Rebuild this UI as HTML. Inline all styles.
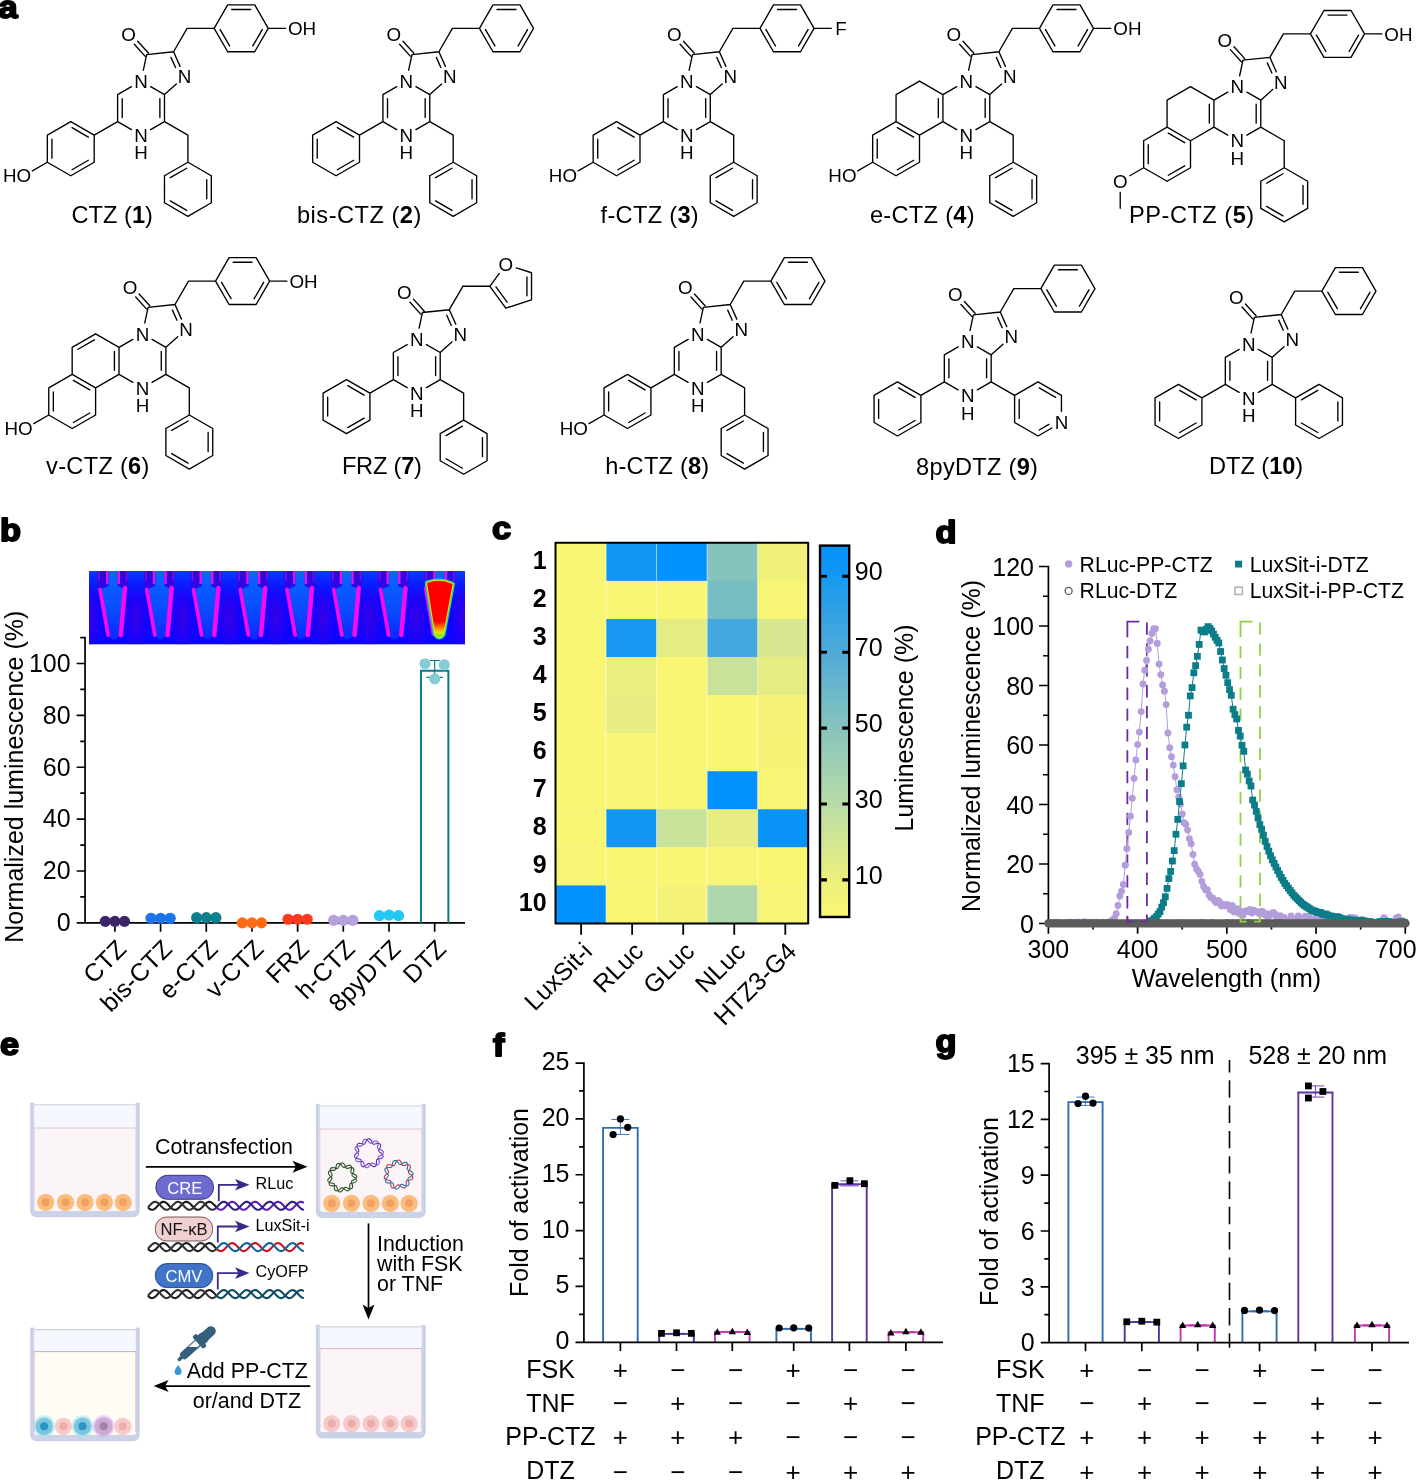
<!DOCTYPE html>
<html><head><meta charset="utf-8"><title>Figure</title>
<style>html,body{margin:0;padding:0;background:#fff}svg{display:block}text{font-family:"Liberation Sans",sans-serif}</style>
</head><body>
<svg width="1416" height="1480" viewBox="0 0 1416 1480">
<rect width="1416" height="1480" fill="#fff"/>
<g font-family="Liberation Sans, sans-serif" fill="#000">
<path d="M150.65 86.61L164.48 94.59M164.48 94.59L164.48 121.64M159.88 98.64L159.88 117.58M164.48 121.64L150.65 129.62M131.44 129.62L117.62 121.64M117.62 121.64L117.62 94.59M122.22 117.58L122.22 98.64M117.62 94.59L131.44 86.61M164.48 94.59L176.34 83.91M180.07 66.36L173.57 51.78M175.54 67.48L171.02 57.35M173.57 51.78L146.67 54.6M146.67 54.6L143.36 70.21M148.38 53.06L137.7 41.2M144.96 56.14L134.29 44.28M173.57 51.78L187.1 28.35M187.1 28.35L214.15 28.35M214.15 28.35L227.67 4.92M227.67 4.92L254.73 4.92M231.73 9.52L250.67 9.52M254.73 4.92L268.25 28.35M268.25 28.35L254.72 51.78M262.24 29.56L252.77 45.96M254.72 51.78L227.68 51.78M227.68 51.78L214.15 28.35M229.63 45.96L220.16 29.56M268.25 28.35L285.56 28.35M164.48 121.64L187.9 135.16M187.9 135.16L187.9 162.21M187.9 162.21L211.33 175.74M211.33 175.74L211.33 202.79M206.73 179.79L206.73 198.73M211.33 202.79L187.9 216.31M187.9 216.31L164.48 202.79M186.69 210.3L170.29 200.83M164.48 202.79L164.48 175.74M164.48 175.74L187.9 162.21M170.29 177.69L186.69 168.22M117.62 121.64L94.2 135.16M94.2 135.16L94.2 162.21M94.2 162.21L70.77 175.74M88.38 160.26L71.99 169.73M70.77 175.74L47.35 162.21M47.35 162.21L47.35 135.16M51.94 158.15L51.94 139.22M47.35 135.16L70.77 121.64M70.77 121.64L94.2 135.16M71.99 127.65L88.38 137.12M47.35 162.21L32.35 170.87" fill="none" stroke="#000" stroke-width="1.35" stroke-linecap="round" stroke-linejoin="round"/>
<text x="141.05" y="87.79" font-size="18.8" text-anchor="middle">N</text>
<text x="141.05" y="141.89" font-size="18.8" text-anchor="middle">N</text>
<text x="141.05" y="159.38" font-size="18.8" text-anchor="middle">H</text>
<text x="184.58" y="83.22" font-size="18.8" text-anchor="middle">N</text>
<text x="128.57" y="41.23" font-size="18.8" text-anchor="middle">O</text>
<text x="287.99" y="35.08" font-size="18.8">OH</text>
<text x="31.23" y="182.47" font-size="18.8" text-anchor="end">HO</text>
<text x="71.5" y="222.6" font-size="23.6" textLength="81.4" lengthAdjust="spacing">CTZ (<tspan font-weight="bold">1</tspan>)</text>
<path d="M415.95 86.61L429.78 94.59M429.78 94.59L429.78 121.64M425.18 98.64L425.18 117.58M429.78 121.64L415.95 129.62M396.74 129.62L382.92 121.64M382.92 121.64L382.92 94.59M387.52 117.58L387.52 98.64M382.92 94.59L396.74 86.61M429.78 94.59L441.64 83.91M445.37 66.36L438.88 51.78M440.84 67.48L436.32 57.35M438.88 51.78L411.97 54.6M411.97 54.6L408.66 70.21M413.68 53.06L403 41.2M410.26 56.14L399.59 44.28M438.88 51.78L452.4 28.35M452.4 28.35L479.45 28.35M479.45 28.35L492.98 4.92M492.98 4.92L520.02 4.92M497.03 9.52L515.97 9.52M520.02 4.92L533.55 28.35M533.55 28.35L520.02 51.78M527.54 29.56L518.07 45.96M520.02 51.78L492.98 51.78M492.98 51.78L479.45 28.35M494.93 45.96L485.46 29.56M429.78 121.64L453.2 135.16M453.2 135.16L453.2 162.21M453.2 162.21L476.63 175.74M476.63 175.74L476.63 202.79M472.03 179.79L472.03 198.73M476.63 202.79L453.2 216.31M453.2 216.31L429.78 202.79M451.99 210.3L435.59 200.83M429.78 202.79L429.78 175.74M429.78 175.74L453.2 162.21M435.59 177.69L451.99 168.22M382.92 121.64L359.5 135.16M359.5 135.16L359.5 162.21M359.5 162.21L336.07 175.74M353.68 160.26L337.29 169.73M336.07 175.74L312.65 162.21M312.65 162.21L312.65 135.16M317.24 158.15L317.24 139.22M312.65 135.16L336.07 121.64M336.07 121.64L359.5 135.16M337.29 127.65L353.68 137.12" fill="none" stroke="#000" stroke-width="1.35" stroke-linecap="round" stroke-linejoin="round"/>
<text x="406.35" y="87.79" font-size="18.8" text-anchor="middle">N</text>
<text x="406.35" y="141.89" font-size="18.8" text-anchor="middle">N</text>
<text x="406.35" y="159.38" font-size="18.8" text-anchor="middle">H</text>
<text x="449.88" y="83.22" font-size="18.8" text-anchor="middle">N</text>
<text x="393.87" y="41.23" font-size="18.8" text-anchor="middle">O</text>
<text x="297" y="222.6" font-size="23.6" textLength="124.3" lengthAdjust="spacing">bis-CTZ (<tspan font-weight="bold">2</tspan>)</text>
<path d="M696.45 86.61L710.28 94.59M710.28 94.59L710.28 121.64M705.68 98.64L705.68 117.58M710.28 121.64L696.45 129.62M677.24 129.62L663.42 121.64M663.42 121.64L663.42 94.59M668.02 117.58L668.02 98.64M663.42 94.59L677.24 86.61M710.28 94.59L722.14 83.91M725.87 66.36L719.38 51.78M721.34 67.48L716.82 57.35M719.38 51.78L692.47 54.6M692.47 54.6L689.16 70.21M694.18 53.06L683.5 41.2M690.76 56.14L680.09 44.28M719.38 51.78L732.9 28.35M732.9 28.35L759.95 28.35M759.95 28.35L773.47 4.92M773.47 4.92L800.52 4.92M777.53 9.52L796.47 9.52M800.52 4.92L814.05 28.35M814.05 28.35L800.52 51.78M808.04 29.56L798.57 45.96M800.52 51.78L773.48 51.78M773.48 51.78L759.95 28.35M775.43 45.96L765.96 29.56M814.05 28.35L831.36 28.35M710.28 121.64L733.7 135.16M733.7 135.16L733.7 162.21M733.7 162.21L757.13 175.74M757.13 175.74L757.13 202.79M752.53 179.79L752.53 198.73M757.13 202.79L733.7 216.31M733.7 216.31L710.28 202.79M732.49 210.3L716.09 200.83M710.28 202.79L710.28 175.74M710.28 175.74L733.7 162.21M716.09 177.69L732.49 168.22M663.42 121.64L640 135.16M640 135.16L640 162.21M640 162.21L616.57 175.74M634.18 160.26L617.79 169.73M616.57 175.74L593.15 162.21M593.15 162.21L593.15 135.16M597.74 158.15L597.74 139.22M593.15 135.16L616.57 121.64M616.57 121.64L640 135.16M617.79 127.65L634.18 137.12M593.15 162.21L578.15 170.87" fill="none" stroke="#000" stroke-width="1.35" stroke-linecap="round" stroke-linejoin="round"/>
<text x="686.85" y="87.79" font-size="18.8" text-anchor="middle">N</text>
<text x="686.85" y="141.89" font-size="18.8" text-anchor="middle">N</text>
<text x="686.85" y="159.38" font-size="18.8" text-anchor="middle">H</text>
<text x="730.38" y="83.22" font-size="18.8" text-anchor="middle">N</text>
<text x="674.37" y="41.23" font-size="18.8" text-anchor="middle">O</text>
<text x="835.36" y="35.08" font-size="18.8">F</text>
<text x="577.03" y="182.47" font-size="18.8" text-anchor="end">HO</text>
<text x="600.6" y="222.6" font-size="23.6" textLength="98.1" lengthAdjust="spacing">f-CTZ (<tspan font-weight="bold">3</tspan>)</text>
<path d="M975.95 86.61L989.78 94.59M989.78 94.59L989.78 121.64M985.18 98.64L985.18 117.58M989.78 121.64L975.95 129.62M956.74 129.62L942.92 121.64M942.92 121.64L942.92 94.59M938.32 117.58L938.32 98.64M942.92 94.59L956.74 86.61M989.78 94.59L1001.64 83.91M1005.37 66.36L998.88 51.78M1000.84 67.48L996.32 57.35M998.88 51.78L971.97 54.6M971.97 54.6L968.66 70.21M973.68 53.06L963 41.2M970.26 56.14L959.59 44.28M998.88 51.78L1012.4 28.35M1012.4 28.35L1039.45 28.35M1039.45 28.35L1052.97 4.92M1052.97 4.92L1080.02 4.92M1057.03 9.52L1075.97 9.52M1080.02 4.92L1093.55 28.35M1093.55 28.35L1080.02 51.78M1087.54 29.56L1078.07 45.96M1080.02 51.78L1052.97 51.78M1052.97 51.78L1039.45 28.35M1054.93 45.96L1045.46 29.56M1093.55 28.35L1110.86 28.35M989.78 121.64L1013.2 135.16M1013.2 135.16L1013.2 162.21M1013.2 162.21L1036.63 175.74M1036.63 175.74L1036.63 202.79M1032.03 179.79L1032.03 198.73M1036.63 202.79L1013.2 216.31M1013.2 216.31L989.78 202.79M1011.99 210.3L995.59 200.83M989.78 202.79L989.78 175.74M989.78 175.74L1013.2 162.21M995.59 177.69L1011.99 168.22M942.92 94.59L919.5 81.06M919.5 135.16L942.92 121.64M919.5 81.06L896.07 94.59M896.07 94.59L896.07 121.64M896.07 121.64L919.5 135.16M897.29 127.65L913.68 137.12M919.5 135.16L919.5 162.21M919.5 162.21L896.07 175.74M913.68 160.26L897.29 169.73M896.07 175.74L872.65 162.21M872.65 162.21L872.65 135.16M877.24 158.15L877.24 139.22M872.65 135.16L896.07 121.64M872.65 162.21L857.65 170.87" fill="none" stroke="#000" stroke-width="1.35" stroke-linecap="round" stroke-linejoin="round"/>
<text x="966.35" y="87.79" font-size="18.8" text-anchor="middle">N</text>
<text x="966.35" y="141.89" font-size="18.8" text-anchor="middle">N</text>
<text x="966.35" y="159.38" font-size="18.8" text-anchor="middle">H</text>
<text x="1009.88" y="83.22" font-size="18.8" text-anchor="middle">N</text>
<text x="953.87" y="41.23" font-size="18.8" text-anchor="middle">O</text>
<text x="1113.29" y="35.08" font-size="18.8">OH</text>
<text x="856.53" y="182.47" font-size="18.8" text-anchor="end">HO</text>
<text x="869.9" y="222.6" font-size="23.6" textLength="104.7" lengthAdjust="spacing">e-CTZ (<tspan font-weight="bold">4</tspan>)</text>
<path d="M1246.95 92.16L1260.78 100.14M1260.78 100.14L1260.78 127.19M1256.18 104.19L1256.18 123.13M1260.78 127.19L1246.95 135.17M1227.74 135.17L1213.92 127.19M1213.92 127.19L1213.92 100.14M1209.32 123.13L1209.32 104.19M1213.92 100.14L1227.74 92.16M1260.78 100.14L1272.64 89.46M1276.37 71.91L1269.88 57.33M1271.84 73.03L1267.32 62.9M1269.88 57.33L1242.97 60.15M1242.97 60.15L1239.66 75.76M1244.68 58.61L1234 46.75M1241.26 61.69L1230.59 49.83M1269.88 57.33L1283.4 33.9M1283.4 33.9L1310.45 33.9M1310.45 33.9L1323.98 10.47M1323.98 10.47L1351.03 10.47M1328.03 15.07L1346.97 15.07M1351.03 10.47L1364.55 33.9M1364.55 33.9L1351.03 57.33M1358.54 35.11L1349.07 51.51M1351.03 57.33L1323.98 57.33M1323.98 57.33L1310.45 33.9M1325.93 51.51L1316.46 35.11M1364.55 33.9L1381.86 33.9M1260.78 127.19L1284.2 140.71M1284.2 140.71L1284.2 167.76M1284.2 167.76L1307.63 181.29M1307.63 181.29L1307.63 208.34M1303.03 185.34L1303.03 204.28M1307.63 208.34L1284.2 221.86M1284.2 221.86L1260.78 208.34M1282.99 215.85L1266.59 206.38M1260.78 208.34L1260.78 181.29M1260.78 181.29L1284.2 167.76M1266.59 183.24L1282.99 173.77M1213.92 100.14L1190.5 86.61M1190.5 140.71L1213.92 127.19M1190.5 86.61L1167.07 100.14M1167.07 100.14L1167.07 127.19M1167.07 127.19L1190.5 140.71M1168.29 133.2L1184.68 142.67M1190.5 140.71L1190.5 167.76M1190.5 167.76L1167.07 181.29M1184.68 165.81L1168.29 175.28M1167.07 181.29L1143.65 167.76M1143.65 167.76L1143.65 140.71M1148.24 163.7L1148.24 144.77M1143.65 140.71L1167.07 127.19M1143.65 167.76L1129.82 175.74M1120.22 192.38L1120.22 208.34" fill="none" stroke="#000" stroke-width="1.35" stroke-linecap="round" stroke-linejoin="round"/>
<text x="1237.35" y="93.34" font-size="18.8" text-anchor="middle">N</text>
<text x="1237.35" y="147.44" font-size="18.8" text-anchor="middle">N</text>
<text x="1237.35" y="164.93" font-size="18.8" text-anchor="middle">H</text>
<text x="1280.88" y="88.77" font-size="18.8" text-anchor="middle">N</text>
<text x="1224.87" y="46.78" font-size="18.8" text-anchor="middle">O</text>
<text x="1384.29" y="40.63" font-size="18.8">OH</text>
<text x="1120.22" y="188.02" font-size="18.8" text-anchor="middle">O</text>
<text x="1129.1" y="222.6" font-size="23.6" textLength="125" lengthAdjust="spacing">PP-CTZ (<tspan font-weight="bold">5</tspan>)</text>
<path d="M152.05 339.36L165.88 347.34M165.88 347.34L165.88 374.39M161.28 351.39L161.28 370.33M165.88 374.39L152.05 382.37M132.84 382.37L119.02 374.39M119.02 374.39L119.02 347.34M114.42 370.33L114.42 351.39M119.02 347.34L132.84 339.36M165.88 347.34L177.74 336.66M181.47 319.11L174.97 304.53M176.94 320.23L172.42 310.1M174.97 304.53L148.07 307.35M148.07 307.35L144.76 322.96M149.78 305.81L139.1 293.95M146.36 308.89L135.69 297.03M174.97 304.53L188.5 281.1M188.5 281.1L215.55 281.1M215.55 281.1L229.07 257.67M229.07 257.67L256.12 257.67M233.13 262.27L252.07 262.27M256.12 257.67L269.65 281.1M269.65 281.1L256.12 304.53M263.64 282.31L254.17 298.71M256.12 304.53L229.07 304.53M229.07 304.53L215.55 281.1M231.03 298.71L221.56 282.31M269.65 281.1L286.96 281.1M165.88 374.39L189.3 387.91M189.3 387.91L189.3 414.96M189.3 414.96L212.73 428.49M212.73 428.49L212.73 455.54M208.13 432.54L208.13 451.48M212.73 455.54L189.3 469.06M189.3 469.06L165.88 455.54M188.09 463.05L171.69 453.58M165.88 455.54L165.88 428.49M165.88 428.49L189.3 414.96M171.69 430.44L188.09 420.97M119.02 347.34L95.6 333.81M95.6 387.91L119.02 374.39M95.6 333.81L72.17 347.34M94.38 339.82L77.98 349.29M72.17 347.34L72.17 374.39M72.17 374.39L95.6 387.91M73.39 380.4L89.78 389.87M95.6 387.91L95.6 414.96M95.6 414.96L72.17 428.49M89.78 413.01L73.39 422.48M72.17 428.49L48.75 414.96M48.75 414.96L48.75 387.91M53.34 410.9L53.34 391.97M48.75 387.91L72.17 374.39M48.75 414.96L33.75 423.62" fill="none" stroke="#000" stroke-width="1.35" stroke-linecap="round" stroke-linejoin="round"/>
<text x="142.45" y="340.54" font-size="18.8" text-anchor="middle">N</text>
<text x="142.45" y="394.64" font-size="18.8" text-anchor="middle">N</text>
<text x="142.45" y="412.13" font-size="18.8" text-anchor="middle">H</text>
<text x="185.98" y="335.97" font-size="18.8" text-anchor="middle">N</text>
<text x="129.97" y="293.98" font-size="18.8" text-anchor="middle">O</text>
<text x="289.39" y="287.83" font-size="18.8">OH</text>
<text x="32.63" y="435.22" font-size="18.8" text-anchor="end">HO</text>
<text x="46.1" y="474.2" font-size="23.6" textLength="103.3" lengthAdjust="spacing">v-CTZ (<tspan font-weight="bold">6</tspan>)</text>
<path d="M426.39 344.55L440.21 352.52M440.21 352.52L440.21 379.57M435.62 356.58L435.62 375.52M440.21 379.57L426.39 387.55M407.18 387.55L393.36 379.57M393.36 379.57L393.36 352.52M397.96 375.52L397.96 356.58M393.36 352.52L407.18 344.55M440.21 352.52L452.07 341.85M455.81 324.29L449.31 309.71M451.27 325.42L446.76 315.29M449.31 309.71L422.41 312.54M422.41 312.54L419.09 328.15M424.12 311L413.44 299.14M420.7 314.08L410.02 302.22M449.31 309.71L462.84 286.29M462.84 286.29L489.89 286.29M489.89 286.29L499.27 273.37M516.34 267.83L531.52 272.76M531.52 272.76L531.52 299.81M526.92 276.82L526.92 295.76M531.52 299.81L505.79 308.17M505.79 308.17L489.89 286.29M507.12 302.19L495.99 286.87M440.21 379.57L463.64 393.1M463.64 393.1L463.64 420.15M463.64 420.15L487.07 433.67M487.07 433.67L487.07 460.72M482.47 437.73L482.47 456.67M487.07 460.72L463.64 474.25M463.64 474.25L440.21 460.72M462.43 468.24L446.03 458.77M440.21 460.72L440.21 433.67M440.21 433.67L463.64 420.15M446.03 435.63L462.43 426.16M393.36 379.57L369.94 393.1M369.94 393.1L369.94 420.15M369.94 420.15L346.51 433.67M364.12 418.2L347.72 427.66M346.51 433.67L323.08 420.15M323.08 420.15L323.08 393.1M327.68 416.09L327.68 397.16M323.08 393.1L346.51 379.57M346.51 379.57L369.94 393.1M347.72 385.59L364.12 395.05" fill="none" stroke="#000" stroke-width="1.35" stroke-linecap="round" stroke-linejoin="round"/>
<text x="416.79" y="345.73" font-size="18.8" text-anchor="middle">N</text>
<text x="416.79" y="399.83" font-size="18.8" text-anchor="middle">N</text>
<text x="416.79" y="417.31" font-size="18.8" text-anchor="middle">H</text>
<text x="460.32" y="341.16" font-size="18.8" text-anchor="middle">N</text>
<text x="404.31" y="299.17" font-size="18.8" text-anchor="middle">O</text>
<text x="505.79" y="271.13" font-size="18.8" text-anchor="middle">O</text>
<text x="341.9" y="474.2" font-size="23.6" textLength="80" lengthAdjust="spacing">FRZ (<tspan font-weight="bold">7</tspan>)</text>
<path d="M707.35 339.36L721.18 347.34M721.18 347.34L721.18 374.39M716.58 351.39L716.58 370.33M721.18 374.39L707.35 382.37M688.14 382.37L674.32 374.39M674.32 374.39L674.32 347.34M678.92 370.33L678.92 351.39M674.32 347.34L688.14 339.36M721.18 347.34L733.04 336.66M736.77 319.11L730.27 304.53M732.24 320.23L727.72 310.1M730.27 304.53L703.37 307.35M703.37 307.35L700.06 322.96M705.08 305.81L694.4 293.95M701.66 308.89L690.99 297.03M730.27 304.53L743.8 281.1M743.8 281.1L770.85 281.1M770.85 281.1L784.37 257.67M784.37 257.67L811.42 257.67M788.43 262.27L807.37 262.27M811.42 257.67L824.95 281.1M824.95 281.1L811.42 304.53M818.94 282.31L809.47 298.71M811.42 304.53L784.38 304.53M784.38 304.53L770.85 281.1M786.33 298.71L776.86 282.31M721.18 374.39L744.6 387.91M744.6 387.91L744.6 414.96M744.6 414.96L768.03 428.49M768.03 428.49L768.03 455.54M763.43 432.54L763.43 451.48M768.03 455.54L744.6 469.06M744.6 469.06L721.18 455.54M743.39 463.05L726.99 453.58M721.18 455.54L721.18 428.49M721.18 428.49L744.6 414.96M726.99 430.44L743.39 420.97M674.32 374.39L650.9 387.91M650.9 387.91L650.9 414.96M650.9 414.96L627.47 428.49M645.08 413.01L628.69 422.48M627.47 428.49L604.05 414.96M604.05 414.96L604.05 387.91M608.64 410.9L608.64 391.97M604.05 387.91L627.47 374.39M627.47 374.39L650.9 387.91M628.69 380.4L645.08 389.87M604.05 414.96L589.05 423.62" fill="none" stroke="#000" stroke-width="1.35" stroke-linecap="round" stroke-linejoin="round"/>
<text x="697.75" y="340.54" font-size="18.8" text-anchor="middle">N</text>
<text x="697.75" y="394.64" font-size="18.8" text-anchor="middle">N</text>
<text x="697.75" y="412.13" font-size="18.8" text-anchor="middle">H</text>
<text x="741.28" y="335.97" font-size="18.8" text-anchor="middle">N</text>
<text x="685.27" y="293.98" font-size="18.8" text-anchor="middle">O</text>
<text x="587.93" y="435.22" font-size="18.8" text-anchor="end">HO</text>
<text x="605.2" y="474.2" font-size="23.6" textLength="104" lengthAdjust="spacing">h-CTZ (<tspan font-weight="bold">8</tspan>)</text>
<path d="M977.35 346.86L991.18 354.84M991.18 354.84L991.18 381.89M986.58 358.89L986.58 377.83M991.18 381.89L977.35 389.87M958.14 389.87L944.32 381.89M944.32 381.89L944.32 354.84M948.92 377.83L948.92 358.89M944.32 354.84L958.14 346.86M991.18 354.84L1003.04 344.16M1006.77 326.61L1000.28 312.03M1002.24 327.73L997.72 317.6M1000.28 312.03L973.37 314.85M973.37 314.85L970.06 330.46M975.08 313.31L964.4 301.45M971.66 316.39L960.99 304.53M1000.28 312.03L1013.8 288.6M1013.8 288.6L1040.85 288.6M1040.85 288.6L1054.38 265.17M1054.38 265.17L1081.42 265.17M1058.43 269.77L1077.37 269.77M1081.42 265.17L1094.95 288.6M1094.95 288.6L1081.42 312.03M1088.94 289.81L1079.47 306.21M1081.42 312.03L1054.38 312.03M1054.38 312.03L1040.85 288.6M1056.33 306.21L1046.86 289.81M991.18 381.89L1014.6 395.41M1014.6 395.41L1038.03 381.89M1038.03 381.89L1061.45 395.41M1039.24 387.9L1055.64 397.37M1061.45 395.41L1061.45 411.37M1051.85 428.01L1038.03 435.99M1048.85 424.43L1039.24 429.98M1038.03 435.99L1014.6 422.46M1014.6 422.46L1014.6 395.41M1019.2 418.4L1019.2 399.47M944.32 381.89L920.9 395.41M920.9 395.41L920.9 422.46M920.9 422.46L897.47 435.99M915.08 420.51L898.69 429.98M897.47 435.99L874.05 422.46M874.05 422.46L874.05 395.41M878.64 418.4L878.64 399.47M874.05 395.41L897.47 381.89M897.47 381.89L920.9 395.41M898.69 387.9L915.08 397.37" fill="none" stroke="#000" stroke-width="1.35" stroke-linecap="round" stroke-linejoin="round"/>
<text x="967.75" y="348.04" font-size="18.8" text-anchor="middle">N</text>
<text x="967.75" y="402.14" font-size="18.8" text-anchor="middle">N</text>
<text x="967.75" y="419.63" font-size="18.8" text-anchor="middle">H</text>
<text x="1011.28" y="343.47" font-size="18.8" text-anchor="middle">N</text>
<text x="955.27" y="301.48" font-size="18.8" text-anchor="middle">O</text>
<text x="1061.45" y="429.19" font-size="18.8" text-anchor="middle">N</text>
<text x="916.1" y="475.4" font-size="23.6" textLength="121.8" lengthAdjust="spacing">8pyDTZ (<tspan font-weight="bold">9</tspan>)</text>
<path d="M1258.35 349.36L1272.18 357.34M1272.18 357.34L1272.18 384.39M1267.58 361.39L1267.58 380.33M1272.18 384.39L1258.35 392.37M1239.14 392.37L1225.32 384.39M1225.32 384.39L1225.32 357.34M1229.92 380.33L1229.92 361.39M1225.32 357.34L1239.14 349.36M1272.18 357.34L1284.04 346.66M1287.77 329.11L1281.28 314.53M1283.24 330.23L1278.72 320.1M1281.28 314.53L1254.37 317.35M1254.37 317.35L1251.06 332.96M1256.08 315.81L1245.4 303.95M1252.66 318.89L1241.99 307.03M1281.28 314.53L1294.8 291.1M1294.8 291.1L1321.85 291.1M1321.85 291.1L1335.38 267.67M1335.38 267.67L1362.43 267.67M1339.43 272.27L1358.37 272.27M1362.43 267.67L1375.95 291.1M1375.95 291.1L1362.43 314.53M1369.94 292.31L1360.47 308.71M1362.43 314.53L1335.38 314.53M1335.38 314.53L1321.85 291.1M1337.33 308.71L1327.86 292.31M1272.18 384.39L1295.6 397.91M1295.6 397.91L1319.03 384.39M1301.41 399.87L1317.81 390.4M1319.03 384.39L1342.45 397.91M1342.45 397.91L1342.45 424.96M1337.85 401.97L1337.85 420.9M1342.45 424.96L1319.03 438.49M1319.03 438.49L1295.6 424.96M1317.81 432.48L1301.41 423.01M1295.6 424.96L1295.6 397.91M1225.32 384.39L1201.9 397.91M1201.9 397.91L1201.9 424.96M1201.9 424.96L1178.47 438.49M1196.08 423.01L1179.69 432.48M1178.47 438.49L1155.05 424.96M1155.05 424.96L1155.05 397.91M1159.64 420.9L1159.64 401.97M1155.05 397.91L1178.47 384.39M1178.47 384.39L1201.9 397.91M1179.69 390.4L1196.08 399.87" fill="none" stroke="#000" stroke-width="1.35" stroke-linecap="round" stroke-linejoin="round"/>
<text x="1248.75" y="350.54" font-size="18.8" text-anchor="middle">N</text>
<text x="1248.75" y="404.64" font-size="18.8" text-anchor="middle">N</text>
<text x="1248.75" y="422.13" font-size="18.8" text-anchor="middle">H</text>
<text x="1292.28" y="345.97" font-size="18.8" text-anchor="middle">N</text>
<text x="1236.27" y="303.98" font-size="18.8" text-anchor="middle">O</text>
<text x="1209" y="474.0" font-size="23.6" textLength="94.2" lengthAdjust="spacing">DTZ (<tspan font-weight="bold">10</tspan>)</text>
</g>
<g font-family="Liberation Sans, sans-serif" font-weight="bold" fill="#000" stroke="#000" stroke-width="1.9" stroke-linejoin="round">
<text transform="translate(-1.60 18.00) scale(1.09 1)" font-size="31.5">a</text>
<text transform="translate(-0.05 540.65) scale(1.09 1)" font-size="31.5">b</text>
<text transform="translate(492.10 538.75) scale(1.09 1)" font-size="31.5">c</text>
<text transform="translate(935.55 542.55) scale(1.09 1)" font-size="31.5">d</text>
<text transform="translate(0.11 1055.20) scale(1.09 1)" font-size="31.5">e</text>
<text transform="translate(493.05 1056.00) scale(1.09 1)" font-size="31.5">f</text>
<text transform="translate(935.55 1051.60) scale(1.09 1)" font-size="31.5">g</text>
</g>
<g font-family="Liberation Sans, sans-serif" fill="#000">
<defs><linearGradient id="bgt" x1="0" y1="0" x2="0" y2="1"><stop offset="0" stop-color="#0840ff" stop-opacity="0.9"/><stop offset="0.45" stop-color="#0820ff" stop-opacity="0"/></linearGradient><linearGradient id="tb" x1="0" y1="0" x2="0" y2="1"><stop offset="0" stop-color="#0a66ff"/><stop offset="0.55" stop-color="#0a4cff"/><stop offset="1" stop-color="#0a28ff"/></linearGradient><linearGradient id="rc" x1="0" y1="0" x2="0" y2="1"><stop offset="0" stop-color="#ff0000"/><stop offset="0.72" stop-color="#ff0000"/><stop offset="0.84" stop-color="#ff8a00"/><stop offset="0.92" stop-color="#e0e600"/><stop offset="1" stop-color="#34e22c"/></linearGradient><radialGradient id="pg"><stop offset="0" stop-color="#3a00e6" stop-opacity="0.95"/><stop offset="1" stop-color="#3a00e6" stop-opacity="0"/></radialGradient><clipPath id="sc"><rect x="89" y="571" width="376" height="73.60000000000002"/></clipPath></defs>
<g clip-path="url(#sc)">
<rect x="89" y="571" width="376" height="73.60000000000002" fill="#0c04ff"/>
<rect x="89" y="571" width="376" height="73.60000000000002" fill="url(#bgt)"/>
<ellipse cx="89.03" cy="618" rx="13" ry="34" fill="url(#pg)"/>
<ellipse cx="135.78" cy="618" rx="13" ry="34" fill="url(#pg)"/>
<ellipse cx="182.53" cy="618" rx="13" ry="34" fill="url(#pg)"/>
<ellipse cx="229.28" cy="618" rx="13" ry="34" fill="url(#pg)"/>
<ellipse cx="276.02" cy="618" rx="13" ry="34" fill="url(#pg)"/>
<ellipse cx="322.77" cy="618" rx="13" ry="34" fill="url(#pg)"/>
<ellipse cx="369.52" cy="618" rx="13" ry="34" fill="url(#pg)"/>
<ellipse cx="416.27" cy="618" rx="13" ry="34" fill="url(#pg)"/>
<ellipse cx="463.02" cy="618" rx="13" ry="34" fill="url(#pg)"/>
<rect x="97.4" y="571" width="9" height="16" fill="#3206e2"/><rect x="118.9" y="571" width="9" height="16" fill="#3206e2"/>
<path d="M108.6 571H117.6V586L123.9 589L119 636Q113.6 643 108.8 636L101.9 589L108.6 586Z" fill="url(#tb)"/>
<path d="M107.2 571v13M118.8 571v13" stroke="#e012f0" stroke-width="2.4" fill="none"/>
<path d="M99 571v10M126.6 571v10" stroke="#7a10e8" stroke-width="1.6" fill="none"/>
<path d="M100 589.5L108.1 635" stroke="#fa0af2" stroke-width="3.8" stroke-linecap="round" fill="none"/>
<path d="M125 588L120.8 635" stroke="#fa0af2" stroke-width="4.5" stroke-linecap="round" fill="none"/>
<rect x="144.15" y="571" width="9" height="16" fill="#3206e2"/><rect x="165.65" y="571" width="9" height="16" fill="#3206e2"/>
<path d="M155.35 571H164.35V586L170.65 589L165.75 636Q160.35 643 155.55 636L148.65 589L155.35 586Z" fill="url(#tb)"/>
<path d="M153.95 571v13M165.55 571v13" stroke="#e012f0" stroke-width="2.4" fill="none"/>
<path d="M145.75 571v10M173.35 571v10" stroke="#7a10e8" stroke-width="1.6" fill="none"/>
<path d="M146.75 589.5L154.85 635" stroke="#fa0af2" stroke-width="3.8" stroke-linecap="round" fill="none"/>
<path d="M171.75 588L167.55 635" stroke="#fa0af2" stroke-width="4.5" stroke-linecap="round" fill="none"/>
<rect x="190.9" y="571" width="9" height="16" fill="#3206e2"/><rect x="212.4" y="571" width="9" height="16" fill="#3206e2"/>
<path d="M202.1 571H211.1V586L217.4 589L212.5 636Q207.1 643 202.3 636L195.4 589L202.1 586Z" fill="url(#tb)"/>
<path d="M200.7 571v13M212.3 571v13" stroke="#e012f0" stroke-width="2.4" fill="none"/>
<path d="M192.5 571v10M220.1 571v10" stroke="#7a10e8" stroke-width="1.6" fill="none"/>
<path d="M193.5 589.5L201.6 635" stroke="#fa0af2" stroke-width="3.8" stroke-linecap="round" fill="none"/>
<path d="M218.5 588L214.3 635" stroke="#fa0af2" stroke-width="4.5" stroke-linecap="round" fill="none"/>
<rect x="237.65" y="571" width="9" height="16" fill="#3206e2"/><rect x="259.15" y="571" width="9" height="16" fill="#3206e2"/>
<path d="M248.85 571H257.85V586L264.15 589L259.25 636Q253.85 643 249.05 636L242.15 589L248.85 586Z" fill="url(#tb)"/>
<path d="M247.45 571v13M259.05 571v13" stroke="#e012f0" stroke-width="2.4" fill="none"/>
<path d="M239.25 571v10M266.85 571v10" stroke="#7a10e8" stroke-width="1.6" fill="none"/>
<path d="M240.25 589.5L248.35 635" stroke="#fa0af2" stroke-width="3.8" stroke-linecap="round" fill="none"/>
<path d="M265.25 588L261.05 635" stroke="#fa0af2" stroke-width="4.5" stroke-linecap="round" fill="none"/>
<rect x="284.4" y="571" width="9" height="16" fill="#3206e2"/><rect x="305.9" y="571" width="9" height="16" fill="#3206e2"/>
<path d="M295.6 571H304.6V586L310.9 589L306 636Q300.6 643 295.8 636L288.9 589L295.6 586Z" fill="url(#tb)"/>
<path d="M294.2 571v13M305.8 571v13" stroke="#e012f0" stroke-width="2.4" fill="none"/>
<path d="M286 571v10M313.6 571v10" stroke="#7a10e8" stroke-width="1.6" fill="none"/>
<path d="M287 589.5L295.1 635" stroke="#fa0af2" stroke-width="3.8" stroke-linecap="round" fill="none"/>
<path d="M312 588L307.8 635" stroke="#fa0af2" stroke-width="4.5" stroke-linecap="round" fill="none"/>
<rect x="331.15" y="571" width="9" height="16" fill="#3206e2"/><rect x="352.65" y="571" width="9" height="16" fill="#3206e2"/>
<path d="M342.35 571H351.35V586L357.65 589L352.75 636Q347.35 643 342.55 636L335.65 589L342.35 586Z" fill="url(#tb)"/>
<path d="M340.95 571v13M352.55 571v13" stroke="#e012f0" stroke-width="2.4" fill="none"/>
<path d="M332.75 571v10M360.35 571v10" stroke="#7a10e8" stroke-width="1.6" fill="none"/>
<path d="M333.75 589.5L341.85 635" stroke="#fa0af2" stroke-width="3.8" stroke-linecap="round" fill="none"/>
<path d="M358.75 588L354.55 635" stroke="#fa0af2" stroke-width="4.5" stroke-linecap="round" fill="none"/>
<rect x="377.9" y="571" width="9" height="16" fill="#3206e2"/><rect x="399.4" y="571" width="9" height="16" fill="#3206e2"/>
<path d="M389.1 571H398.1V586L404.4 589L399.5 636Q394.1 643 389.3 636L382.4 589L389.1 586Z" fill="url(#tb)"/>
<path d="M387.7 571v13M399.3 571v13" stroke="#e012f0" stroke-width="2.4" fill="none"/>
<path d="M379.5 571v10M407.1 571v10" stroke="#7a10e8" stroke-width="1.6" fill="none"/>
<path d="M380.5 589.5L388.6 635" stroke="#fa0af2" stroke-width="3.8" stroke-linecap="round" fill="none"/>
<path d="M405.5 588L401.3 635" stroke="#fa0af2" stroke-width="4.5" stroke-linecap="round" fill="none"/>
<rect x="424.65" y="571" width="9" height="16" fill="#3206e2"/><rect x="446.15" y="571" width="9" height="16" fill="#3206e2"/>
<path d="M435.85 571H444.85V586L451.15 589L446.25 636Q440.85 643 436.05 636L429.15 589L435.85 586Z" fill="url(#tb)"/>
<path d="M434.45 571v13M446.05 571v13" stroke="#e012f0" stroke-width="2.4" fill="none"/>
<path d="M426.25 571v10M453.85 571v10" stroke="#7a10e8" stroke-width="1.6" fill="none"/>
<path d="M425.45 588L433.25 634" stroke="#fa0af2" stroke-width="3.4" stroke-linecap="round" fill="none"/>
<path d="M427.05 583 Q440.15 578 452.65 584 L443.25 634 Q439.15 640.5 435.25 634 Z" fill="#14d0f0" stroke="#14d0f0" stroke-width="4.6" stroke-linejoin="round"/>
<path d="M427.05 583 Q440.15 578 452.65 584 L443.25 634 Q439.15 640.5 435.25 634 Z" fill="#30e428" stroke="#30e428" stroke-width="3.2" stroke-linejoin="round"/>
<path d="M427.05 583 Q440.15 578 452.65 584 L443.25 634 Q439.15 640.5 435.25 634 Z" fill="#f4e210" stroke="#f4e210" stroke-width="1.8" stroke-linejoin="round"/>
<path d="M427.05 583 Q440.15 578 452.65 584 L443.25 634 Q439.15 640.5 435.25 634 Z" fill="url(#rc)" stroke="none" stroke-width="0.2" stroke-linejoin="round"/>
</g>
<path d="M85.05 923.75V636.71M76.65 922.9H465M76.65 922.9h8.4M80.25 896.96h4.8M76.65 871.02h8.4M80.25 845.08h4.8M76.65 819.14h8.4M80.25 793.2h4.8M76.65 767.26h8.4M80.25 741.32h4.8M76.65 715.38h8.4M80.25 689.44h4.8M76.65 663.5h8.4M80.25 637.56h4.8M114.9 922.9v8.8M160.58 922.9v8.8M206.26 922.9v8.8M251.94 922.9v8.8M297.62 922.9v8.8M343.3 922.9v8.8M388.98 922.9v8.8M434.66 922.9v8.8" stroke="#000" stroke-width="1.7" fill="none"/>
<circle cx="105.3" cy="921.34" r="5.6" fill="#3c2468"/>
<circle cx="114.9" cy="921.34" r="5.6" fill="#3c2468"/>
<circle cx="124.5" cy="921.34" r="5.6" fill="#3c2468"/>
<circle cx="150.98" cy="918.23" r="5.6" fill="#1b74ea"/>
<circle cx="160.58" cy="918.23" r="5.6" fill="#1b74ea"/>
<circle cx="170.18" cy="918.23" r="5.6" fill="#1b74ea"/>
<circle cx="196.66" cy="917.71" r="5.6" fill="#0b7f8b"/>
<circle cx="206.26" cy="917.71" r="5.6" fill="#0b7f8b"/>
<circle cx="215.86" cy="917.71" r="5.6" fill="#0b7f8b"/>
<circle cx="242.34" cy="922.9" r="5.6" fill="#ff6b14"/>
<circle cx="251.94" cy="922.9" r="5.6" fill="#ff6b14"/>
<circle cx="261.54" cy="922.9" r="5.6" fill="#ff6b14"/>
<circle cx="288.02" cy="919.27" r="5.6" fill="#ff3a1e"/>
<circle cx="297.62" cy="919.27" r="5.6" fill="#ff3a1e"/>
<circle cx="307.22" cy="919.27" r="5.6" fill="#ff3a1e"/>
<circle cx="333.7" cy="920.31" r="5.6" fill="#b5a1dc"/>
<circle cx="343.3" cy="920.31" r="5.6" fill="#b5a1dc"/>
<circle cx="352.9" cy="920.31" r="5.6" fill="#b5a1dc"/>
<circle cx="379.38" cy="915.64" r="5.6" fill="#22c7f4"/>
<circle cx="388.98" cy="915.12" r="5.6" fill="#22c7f4"/>
<circle cx="398.58" cy="915.64" r="5.6" fill="#22c7f4"/>
<path d="M420.96 922.9V670.76H448.36V922.9" fill="none" stroke="#077b89" stroke-width="2"/>
<path d="M434.66 660.5V677.4M429.86 660.5h10M426.36 677.4h16.6" stroke="#077b89" stroke-width="1.2" fill="none"/>
<circle cx="425.06" cy="663.76" r="5.6" fill="#85ccd4"/>
<circle cx="434.66" cy="678.91" r="5.6" fill="#85ccd4"/>
<circle cx="444.26" cy="664.8" r="5.6" fill="#85ccd4"/>
<text x="70.6" y="931.2" font-size="25" text-anchor="end">0</text>
<text x="70.6" y="879.32" font-size="25" text-anchor="end">20</text>
<text x="70.6" y="827.44" font-size="25" text-anchor="end">40</text>
<text x="70.6" y="775.56" font-size="25" text-anchor="end">60</text>
<text x="70.6" y="723.68" font-size="25" text-anchor="end">80</text>
<text x="70.6" y="671.8" font-size="25" text-anchor="end">100</text>
<text transform="translate(23.2 776.7) rotate(-90)" font-size="25" text-anchor="middle">Normalized luminescence (%)</text>
<text transform="translate(127.9 950.5) rotate(-45)" font-size="25" text-anchor="end">CTZ</text>
<text transform="translate(173.58 950.5) rotate(-45)" font-size="25" text-anchor="end">bis-CTZ</text>
<text transform="translate(219.26 950.5) rotate(-45)" font-size="25" text-anchor="end">e-CTZ</text>
<text transform="translate(264.94 950.5) rotate(-45)" font-size="25" text-anchor="end">v-CTZ</text>
<text transform="translate(310.62 950.5) rotate(-45)" font-size="25" text-anchor="end">FRZ</text>
<text transform="translate(356.3 950.5) rotate(-45)" font-size="25" text-anchor="end">h-CTZ</text>
<text transform="translate(401.98 950.5) rotate(-45)" font-size="25" text-anchor="end">8pyDTZ</text>
<text transform="translate(447.66 950.5) rotate(-45)" font-size="25" text-anchor="end">DTZ</text>
</g>
<g font-family="Liberation Sans, sans-serif" fill="#000">
<rect x="555.5" y="542.8" width="50.84" height="38.37" fill="#faf673"/>
<rect x="606.04" y="542.8" width="50.84" height="38.37" fill="#1397f2"/>
<rect x="656.58" y="542.8" width="50.84" height="38.37" fill="#0391fd"/>
<rect x="707.12" y="542.8" width="50.84" height="38.37" fill="#86c3bd"/>
<rect x="757.66" y="542.8" width="50.84" height="38.37" fill="#eff07a"/>
<rect x="555.5" y="580.87" width="50.84" height="38.37" fill="#f9f673"/>
<rect x="606.04" y="580.87" width="50.84" height="38.37" fill="#f9f673"/>
<rect x="656.58" y="580.87" width="50.84" height="38.37" fill="#faf673"/>
<rect x="707.12" y="580.87" width="50.84" height="38.37" fill="#78bdc4"/>
<rect x="757.66" y="580.87" width="50.84" height="38.37" fill="#f8f574"/>
<rect x="555.5" y="618.94" width="50.84" height="38.37" fill="#faf673"/>
<rect x="606.04" y="618.94" width="50.84" height="38.37" fill="#1698f0"/>
<rect x="656.58" y="618.94" width="50.84" height="38.37" fill="#e5ec82"/>
<rect x="707.12" y="618.94" width="50.84" height="38.37" fill="#44a7dd"/>
<rect x="757.66" y="618.94" width="50.84" height="38.37" fill="#d6e78f"/>
<rect x="555.5" y="657.01" width="50.84" height="38.37" fill="#faf673"/>
<rect x="606.04" y="657.01" width="50.84" height="38.37" fill="#eaee7e"/>
<rect x="656.58" y="657.01" width="50.84" height="38.37" fill="#faf673"/>
<rect x="707.12" y="657.01" width="50.84" height="38.37" fill="#c8e29a"/>
<rect x="757.66" y="657.01" width="50.84" height="38.37" fill="#e5ec82"/>
<rect x="555.5" y="695.08" width="50.84" height="38.37" fill="#f9f673"/>
<rect x="606.04" y="695.08" width="50.84" height="38.37" fill="#e7ed80"/>
<rect x="656.58" y="695.08" width="50.84" height="38.37" fill="#faf673"/>
<rect x="707.12" y="695.08" width="50.84" height="38.37" fill="#faf673"/>
<rect x="757.66" y="695.08" width="50.84" height="38.37" fill="#f4f377"/>
<rect x="555.5" y="733.15" width="50.84" height="38.37" fill="#faf673"/>
<rect x="606.04" y="733.15" width="50.84" height="38.37" fill="#f9f574"/>
<rect x="656.58" y="733.15" width="50.84" height="38.37" fill="#faf673"/>
<rect x="707.12" y="733.15" width="50.84" height="38.37" fill="#faf673"/>
<rect x="757.66" y="733.15" width="50.84" height="38.37" fill="#f6f476"/>
<rect x="555.5" y="771.22" width="50.84" height="38.37" fill="#faf673"/>
<rect x="606.04" y="771.22" width="50.84" height="38.37" fill="#f7f575"/>
<rect x="656.58" y="771.22" width="50.84" height="38.37" fill="#faf673"/>
<rect x="707.12" y="771.22" width="50.84" height="38.37" fill="#0391fd"/>
<rect x="757.66" y="771.22" width="50.84" height="38.37" fill="#f9f574"/>
<rect x="555.5" y="809.29" width="50.84" height="38.37" fill="#faf673"/>
<rect x="606.04" y="809.29" width="50.84" height="38.37" fill="#1397f2"/>
<rect x="656.58" y="809.29" width="50.84" height="38.37" fill="#c8e29a"/>
<rect x="707.12" y="809.29" width="50.84" height="38.37" fill="#e7ed80"/>
<rect x="757.66" y="809.29" width="50.84" height="38.37" fill="#0993f9"/>
<rect x="555.5" y="847.36" width="50.84" height="38.37" fill="#f9f574"/>
<rect x="606.04" y="847.36" width="50.84" height="38.37" fill="#faf673"/>
<rect x="656.58" y="847.36" width="50.84" height="38.37" fill="#faf673"/>
<rect x="707.12" y="847.36" width="50.84" height="38.37" fill="#f7f575"/>
<rect x="757.66" y="847.36" width="50.84" height="38.37" fill="#faf673"/>
<rect x="555.5" y="885.43" width="50.84" height="38.37" fill="#0391fd"/>
<rect x="606.04" y="885.43" width="50.84" height="38.37" fill="#faf673"/>
<rect x="656.58" y="885.43" width="50.84" height="38.37" fill="#f4f377"/>
<rect x="707.12" y="885.43" width="50.84" height="38.37" fill="#add6ac"/>
<rect x="757.66" y="885.43" width="50.84" height="38.37" fill="#f7f575"/>
<path d="M606.04 542.8V923.5" stroke="#fff" stroke-opacity="0.75" stroke-width="0.7"/>
<path d="M656.58 542.8V923.5" stroke="#fff" stroke-opacity="0.75" stroke-width="0.7"/>
<path d="M707.12 542.8V923.5" stroke="#fff" stroke-opacity="0.75" stroke-width="0.7"/>
<path d="M757.66 542.8V923.5" stroke="#fff" stroke-opacity="0.75" stroke-width="0.7"/>
<rect x="555.5" y="542.8" width="252.7" height="380.7" fill="none" stroke="#000" stroke-width="2" stroke-linejoin="round"/>
<path d="M581.1 923.5v11.3M632.15 923.5v11.3M683.2 923.5v11.3M734.25 923.5v11.3M785.3 923.5v11.3" stroke="#000" stroke-width="1.8" fill="none"/>
<text x="546.6" y="568.73" font-size="25" font-weight="bold" text-anchor="end">1</text>
<text x="546.6" y="606.8" font-size="25" font-weight="bold" text-anchor="end">2</text>
<text x="546.6" y="644.87" font-size="25" font-weight="bold" text-anchor="end">3</text>
<text x="546.6" y="682.94" font-size="25" font-weight="bold" text-anchor="end">4</text>
<text x="546.6" y="721.01" font-size="25" font-weight="bold" text-anchor="end">5</text>
<text x="546.6" y="759.08" font-size="25" font-weight="bold" text-anchor="end">6</text>
<text x="546.6" y="797.15" font-size="25" font-weight="bold" text-anchor="end">7</text>
<text x="546.6" y="835.23" font-size="25" font-weight="bold" text-anchor="end">8</text>
<text x="546.6" y="873.29" font-size="25" font-weight="bold" text-anchor="end">9</text>
<text x="546.6" y="911.37" font-size="25" font-weight="bold" text-anchor="end">10</text>
<text transform="translate(593.7 953) rotate(-45)" font-size="25" text-anchor="end">LuxSit-i</text>
<text transform="translate(644.75 953) rotate(-45)" font-size="25" text-anchor="end">RLuc</text>
<text transform="translate(695.8 953) rotate(-45)" font-size="25" text-anchor="end">GLuc</text>
<text transform="translate(746.85 953) rotate(-45)" font-size="25" text-anchor="end">NLuc</text>
<text transform="translate(797.9 953) rotate(-45)" font-size="25" text-anchor="end">HTZ3-G4</text>
<defs><linearGradient id="cb" x1="0" y1="0" x2="0" y2="1"><stop offset="0" stop-color="#0090ff"/><stop offset="0.08" stop-color="#1698f0"/><stop offset="0.29" stop-color="#50abd8"/><stop offset="0.49" stop-color="#86c3bd"/><stop offset="0.69" stop-color="#b7dba8"/><stop offset="0.8" stop-color="#d4e691"/><stop offset="0.9" stop-color="#ecef7c"/><stop offset="1" stop-color="#faf673"/></linearGradient></defs>
<rect x="820" y="545.6" width="29.2" height="371.4" fill="url(#cb)" stroke="#000" stroke-width="2.4"/>
<text x="854.8" y="883.5" font-size="25">10</text>
<text x="854.8" y="807.6" font-size="25">30</text>
<text x="854.8" y="731.7" font-size="25">50</text>
<text x="854.8" y="655.8" font-size="25">70</text>
<text x="854.8" y="579.9" font-size="25">90</text>
<path d="M820 879.9h6.9M849.2 879.9h-6.9M820 804h6.9M849.2 804h-6.9M820 728.1h6.9M849.2 728.1h-6.9M820 652.2h6.9M849.2 652.2h-6.9M820 576.3h6.9M849.2 576.3h-6.9" stroke="#000" stroke-width="3.1" fill="none"/>
<text transform="translate(912.5 728) rotate(-90)" font-size="25" text-anchor="middle">Luminescence (%)</text>
</g>
<g font-family="Liberation Sans, sans-serif" fill="#000">
<g fill="none" stroke="#6d2aa2" stroke-width="1.8"><path d="M1127.36 621.54V921.7" stroke-dasharray="12.3 8.55" stroke-dashoffset="17.35"/><path d="M1146.9 621.54V921.7" stroke-dasharray="12.3 8.55" stroke-dashoffset="19.85"/><path d="M1127.36 625.14V621.54H1139.36"/></g>
<g fill="none" stroke="#90d146" stroke-width="1.8"><path d="M1240.49 621.54V921.7" stroke-dasharray="12.3 8.55" stroke-dashoffset="17.35"/><path d="M1260.03 621.54V921.7" stroke-dasharray="12.3 8.55" stroke-dashoffset="19.85"/><path d="M1240.49 625.14V621.54H1252.49"/></g>
<polyline points="1048.4,923.5 1050.18,923.5 1051.97,922.65 1053.75,923.5 1055.54,922.96 1057.32,923.41 1059.11,923.5 1060.89,923.03 1062.68,923.5 1064.46,923.23 1066.24,923.5 1068.03,923.5 1069.81,923.26 1071.6,922.18 1073.38,923.5 1075.17,923.5 1076.95,922.71 1078.73,921.86 1080.52,922.85 1082.3,923.33 1084.09,921.78 1085.87,923.5 1087.66,922.09 1089.44,923.5 1091.23,923.5 1093.01,923.5 1094.79,923.5 1096.58,922.21 1098.36,923.5 1100.15,922.84 1101.93,922.68 1103.72,923.4 1105.5,922.93 1107.29,923.5 1109.07,921.86 1110.85,921.12 1112.64,919.63 1114.42,918.14 1116.21,913.63 1117.99,905.57 1119.78,896.01 1121.56,891.11 1123.34,884.44 1125.13,865.32 1126.91,848.79 1128.7,832.45 1130.48,816.15 1132.27,798.17 1134.05,778.4 1135.84,759.99 1137.62,744.58 1139.4,732.11 1141.19,711.6 1142.97,684.04 1144.76,670.28 1146.54,660.38 1148.33,649.23 1150.11,640.99 1151.9,633.53 1153.68,628.66 1155.46,628.74 1157.25,643.47 1159.03,664.11 1160.82,674.62 1162.6,684.98 1164.39,691.16 1166.17,704.6 1167.95,733.03 1169.74,747.72 1171.52,756.63 1173.31,765.08 1175.09,776.78 1176.88,789.64 1178.66,796.84 1180.45,804.05 1182.23,813.96 1184.01,822.81 1185.8,824.37 1187.58,830.07 1189.37,838.79 1191.15,843.71 1192.94,854.43 1194.72,864.14 1196.51,869.03 1198.29,871.32 1200.07,874.37 1201.86,881.35 1203.64,886.57 1205.43,889.78 1207.21,889.75 1209,894.69 1210.78,897.61 1212.56,897.89 1214.35,900.47 1216.13,902.71 1217.92,900.51 1219.7,902.06 1221.49,906.06 1223.27,904.69 1225.06,905.92 1226.84,904.42 1228.62,906.01 1230.41,909.63 1232.19,905.49 1233.98,911.98 1235.76,910.52 1237.55,908.74 1239.33,913.42 1241.12,911.65 1242.9,915.26 1244.68,911.49 1246.47,910.59 1248.25,911.67 1250.04,909.36 1251.82,912.96 1253.61,910.11 1255.39,911.4 1257.17,912.09 1258.96,913.54 1260.74,911.51 1262.53,911.38 1264.31,914.84 1266.1,913.78 1267.88,918.15 1269.67,914 1271.45,914.61 1273.23,912.48 1275.02,913.89 1276.8,917.8 1278.59,917.35 1280.37,915.65 1282.16,920.25 1283.94,917.43 1285.73,919.61 1287.51,920.14 1289.29,920.72 1291.08,916.04 1292.86,920.59 1294.65,919.96 1296.43,919.16 1298.22,916.05 1300,921.55 1301.78,919.12 1303.57,918.52 1305.35,916.32 1307.14,916.85 1308.92,916.64 1310.71,920.73 1312.49,919.88 1314.28,920.36 1316.06,916.85 1317.84,916.39 1319.63,921.94 1321.41,921.81 1323.2,921.46 1324.98,921.49 1326.77,919.8 1328.55,919.12 1330.34,921.39 1332.12,923.2 1333.9,920.4 1335.69,920.77 1337.47,919.46 1339.26,916.85 1341.04,918.68 1342.83,919.91 1344.61,919.25 1346.39,918.89 1348.18,923.18 1349.96,917.43 1351.75,918.28 1353.53,917.67 1355.32,918.23 1357.1,921.04 1358.89,921.03 1360.67,923.09 1362.45,919.46 1364.24,923.37 1366.02,923.34 1367.81,922.37 1369.59,922.69 1371.38,921.47 1373.16,923.44 1374.95,923.5 1376.73,922.76 1378.51,923.1 1380.3,921.31 1382.08,923.5 1383.87,917.81 1385.65,919.6 1387.44,922.78 1389.22,922.07 1391,921.42 1392.79,921.31 1394.57,922.96 1396.36,917.99 1398.14,917 1399.93,920.61 1401.71,920.49 1403.5,923.21 1405.28,923.1" fill="none" stroke="#b39ddb" stroke-width="1"/>
<g fill="#b39ddb"><circle cx="1048.4" cy="923.5" r="3.45"/><circle cx="1050.18" cy="923.5" r="3.45"/><circle cx="1051.97" cy="922.65" r="3.45"/><circle cx="1053.75" cy="923.5" r="3.45"/><circle cx="1055.54" cy="922.96" r="3.45"/><circle cx="1057.32" cy="923.41" r="3.45"/><circle cx="1059.11" cy="923.5" r="3.45"/><circle cx="1060.89" cy="923.03" r="3.45"/><circle cx="1062.68" cy="923.5" r="3.45"/><circle cx="1064.46" cy="923.23" r="3.45"/><circle cx="1066.24" cy="923.5" r="3.45"/><circle cx="1068.03" cy="923.5" r="3.45"/><circle cx="1069.81" cy="923.26" r="3.45"/><circle cx="1071.6" cy="922.18" r="3.45"/><circle cx="1073.38" cy="923.5" r="3.45"/><circle cx="1075.17" cy="923.5" r="3.45"/><circle cx="1076.95" cy="922.71" r="3.45"/><circle cx="1078.73" cy="921.86" r="3.45"/><circle cx="1080.52" cy="922.85" r="3.45"/><circle cx="1082.3" cy="923.33" r="3.45"/><circle cx="1084.09" cy="921.78" r="3.45"/><circle cx="1085.87" cy="923.5" r="3.45"/><circle cx="1087.66" cy="922.09" r="3.45"/><circle cx="1089.44" cy="923.5" r="3.45"/><circle cx="1091.23" cy="923.5" r="3.45"/><circle cx="1093.01" cy="923.5" r="3.45"/><circle cx="1094.79" cy="923.5" r="3.45"/><circle cx="1096.58" cy="922.21" r="3.45"/><circle cx="1098.36" cy="923.5" r="3.45"/><circle cx="1100.15" cy="922.84" r="3.45"/><circle cx="1101.93" cy="922.68" r="3.45"/><circle cx="1103.72" cy="923.4" r="3.45"/><circle cx="1105.5" cy="922.93" r="3.45"/><circle cx="1107.29" cy="923.5" r="3.45"/><circle cx="1109.07" cy="921.86" r="3.45"/><circle cx="1110.85" cy="921.12" r="3.45"/><circle cx="1112.64" cy="919.63" r="3.45"/><circle cx="1114.42" cy="918.14" r="3.45"/><circle cx="1116.21" cy="913.63" r="3.45"/><circle cx="1117.99" cy="905.57" r="3.45"/><circle cx="1119.78" cy="896.01" r="3.45"/><circle cx="1121.56" cy="891.11" r="3.45"/><circle cx="1123.34" cy="884.44" r="3.45"/><circle cx="1125.13" cy="865.32" r="3.45"/><circle cx="1126.91" cy="848.79" r="3.45"/><circle cx="1128.7" cy="832.45" r="3.45"/><circle cx="1130.48" cy="816.15" r="3.45"/><circle cx="1132.27" cy="798.17" r="3.45"/><circle cx="1134.05" cy="778.4" r="3.45"/><circle cx="1135.84" cy="759.99" r="3.45"/><circle cx="1137.62" cy="744.58" r="3.45"/><circle cx="1139.4" cy="732.11" r="3.45"/><circle cx="1141.19" cy="711.6" r="3.45"/><circle cx="1142.97" cy="684.04" r="3.45"/><circle cx="1144.76" cy="670.28" r="3.45"/><circle cx="1146.54" cy="660.38" r="3.45"/><circle cx="1148.33" cy="649.23" r="3.45"/><circle cx="1150.11" cy="640.99" r="3.45"/><circle cx="1151.9" cy="633.53" r="3.45"/><circle cx="1153.68" cy="628.66" r="3.45"/><circle cx="1155.46" cy="628.74" r="3.45"/><circle cx="1157.25" cy="643.47" r="3.45"/><circle cx="1159.03" cy="664.11" r="3.45"/><circle cx="1160.82" cy="674.62" r="3.45"/><circle cx="1162.6" cy="684.98" r="3.45"/><circle cx="1164.39" cy="691.16" r="3.45"/><circle cx="1166.17" cy="704.6" r="3.45"/><circle cx="1167.95" cy="733.03" r="3.45"/><circle cx="1169.74" cy="747.72" r="3.45"/><circle cx="1171.52" cy="756.63" r="3.45"/><circle cx="1173.31" cy="765.08" r="3.45"/><circle cx="1175.09" cy="776.78" r="3.45"/><circle cx="1176.88" cy="789.64" r="3.45"/><circle cx="1178.66" cy="796.84" r="3.45"/><circle cx="1180.45" cy="804.05" r="3.45"/><circle cx="1182.23" cy="813.96" r="3.45"/><circle cx="1184.01" cy="822.81" r="3.45"/><circle cx="1185.8" cy="824.37" r="3.45"/><circle cx="1187.58" cy="830.07" r="3.45"/><circle cx="1189.37" cy="838.79" r="3.45"/><circle cx="1191.15" cy="843.71" r="3.45"/><circle cx="1192.94" cy="854.43" r="3.45"/><circle cx="1194.72" cy="864.14" r="3.45"/><circle cx="1196.51" cy="869.03" r="3.45"/><circle cx="1198.29" cy="871.32" r="3.45"/><circle cx="1200.07" cy="874.37" r="3.45"/><circle cx="1201.86" cy="881.35" r="3.45"/><circle cx="1203.64" cy="886.57" r="3.45"/><circle cx="1205.43" cy="889.78" r="3.45"/><circle cx="1207.21" cy="889.75" r="3.45"/><circle cx="1209" cy="894.69" r="3.45"/><circle cx="1210.78" cy="897.61" r="3.45"/><circle cx="1212.56" cy="897.89" r="3.45"/><circle cx="1214.35" cy="900.47" r="3.45"/><circle cx="1216.13" cy="902.71" r="3.45"/><circle cx="1217.92" cy="900.51" r="3.45"/><circle cx="1219.7" cy="902.06" r="3.45"/><circle cx="1221.49" cy="906.06" r="3.45"/><circle cx="1223.27" cy="904.69" r="3.45"/><circle cx="1225.06" cy="905.92" r="3.45"/><circle cx="1226.84" cy="904.42" r="3.45"/><circle cx="1228.62" cy="906.01" r="3.45"/><circle cx="1230.41" cy="909.63" r="3.45"/><circle cx="1232.19" cy="905.49" r="3.45"/><circle cx="1233.98" cy="911.98" r="3.45"/><circle cx="1235.76" cy="910.52" r="3.45"/><circle cx="1237.55" cy="908.74" r="3.45"/><circle cx="1239.33" cy="913.42" r="3.45"/><circle cx="1241.12" cy="911.65" r="3.45"/><circle cx="1242.9" cy="915.26" r="3.45"/><circle cx="1244.68" cy="911.49" r="3.45"/><circle cx="1246.47" cy="910.59" r="3.45"/><circle cx="1248.25" cy="911.67" r="3.45"/><circle cx="1250.04" cy="909.36" r="3.45"/><circle cx="1251.82" cy="912.96" r="3.45"/><circle cx="1253.61" cy="910.11" r="3.45"/><circle cx="1255.39" cy="911.4" r="3.45"/><circle cx="1257.17" cy="912.09" r="3.45"/><circle cx="1258.96" cy="913.54" r="3.45"/><circle cx="1260.74" cy="911.51" r="3.45"/><circle cx="1262.53" cy="911.38" r="3.45"/><circle cx="1264.31" cy="914.84" r="3.45"/><circle cx="1266.1" cy="913.78" r="3.45"/><circle cx="1267.88" cy="918.15" r="3.45"/><circle cx="1269.67" cy="914" r="3.45"/><circle cx="1271.45" cy="914.61" r="3.45"/><circle cx="1273.23" cy="912.48" r="3.45"/><circle cx="1275.02" cy="913.89" r="3.45"/><circle cx="1276.8" cy="917.8" r="3.45"/><circle cx="1278.59" cy="917.35" r="3.45"/><circle cx="1280.37" cy="915.65" r="3.45"/><circle cx="1282.16" cy="920.25" r="3.45"/><circle cx="1283.94" cy="917.43" r="3.45"/><circle cx="1285.73" cy="919.61" r="3.45"/><circle cx="1287.51" cy="920.14" r="3.45"/><circle cx="1289.29" cy="920.72" r="3.45"/><circle cx="1291.08" cy="916.04" r="3.45"/><circle cx="1292.86" cy="920.59" r="3.45"/><circle cx="1294.65" cy="919.96" r="3.45"/><circle cx="1296.43" cy="919.16" r="3.45"/><circle cx="1298.22" cy="916.05" r="3.45"/><circle cx="1300" cy="921.55" r="3.45"/><circle cx="1301.78" cy="919.12" r="3.45"/><circle cx="1303.57" cy="918.52" r="3.45"/><circle cx="1305.35" cy="916.32" r="3.45"/><circle cx="1307.14" cy="916.85" r="3.45"/><circle cx="1308.92" cy="916.64" r="3.45"/><circle cx="1310.71" cy="920.73" r="3.45"/><circle cx="1312.49" cy="919.88" r="3.45"/><circle cx="1314.28" cy="920.36" r="3.45"/><circle cx="1316.06" cy="916.85" r="3.45"/><circle cx="1317.84" cy="916.39" r="3.45"/><circle cx="1319.63" cy="921.94" r="3.45"/><circle cx="1321.41" cy="921.81" r="3.45"/><circle cx="1323.2" cy="921.46" r="3.45"/><circle cx="1324.98" cy="921.49" r="3.45"/><circle cx="1326.77" cy="919.8" r="3.45"/><circle cx="1328.55" cy="919.12" r="3.45"/><circle cx="1330.34" cy="921.39" r="3.45"/><circle cx="1332.12" cy="923.2" r="3.45"/><circle cx="1333.9" cy="920.4" r="3.45"/><circle cx="1335.69" cy="920.77" r="3.45"/><circle cx="1337.47" cy="919.46" r="3.45"/><circle cx="1339.26" cy="916.85" r="3.45"/><circle cx="1341.04" cy="918.68" r="3.45"/><circle cx="1342.83" cy="919.91" r="3.45"/><circle cx="1344.61" cy="919.25" r="3.45"/><circle cx="1346.39" cy="918.89" r="3.45"/><circle cx="1348.18" cy="923.18" r="3.45"/><circle cx="1349.96" cy="917.43" r="3.45"/><circle cx="1351.75" cy="918.28" r="3.45"/><circle cx="1353.53" cy="917.67" r="3.45"/><circle cx="1355.32" cy="918.23" r="3.45"/><circle cx="1357.1" cy="921.04" r="3.45"/><circle cx="1358.89" cy="921.03" r="3.45"/><circle cx="1360.67" cy="923.09" r="3.45"/><circle cx="1362.45" cy="919.46" r="3.45"/><circle cx="1364.24" cy="923.37" r="3.45"/><circle cx="1366.02" cy="923.34" r="3.45"/><circle cx="1367.81" cy="922.37" r="3.45"/><circle cx="1369.59" cy="922.69" r="3.45"/><circle cx="1371.38" cy="921.47" r="3.45"/><circle cx="1373.16" cy="923.44" r="3.45"/><circle cx="1374.95" cy="923.5" r="3.45"/><circle cx="1376.73" cy="922.76" r="3.45"/><circle cx="1378.51" cy="923.1" r="3.45"/><circle cx="1380.3" cy="921.31" r="3.45"/><circle cx="1382.08" cy="923.5" r="3.45"/><circle cx="1383.87" cy="917.81" r="3.45"/><circle cx="1385.65" cy="919.6" r="3.45"/><circle cx="1387.44" cy="922.78" r="3.45"/><circle cx="1389.22" cy="922.07" r="3.45"/><circle cx="1391" cy="921.42" r="3.45"/><circle cx="1392.79" cy="921.31" r="3.45"/><circle cx="1394.57" cy="922.96" r="3.45"/><circle cx="1396.36" cy="917.99" r="3.45"/><circle cx="1398.14" cy="917" r="3.45"/><circle cx="1399.93" cy="920.61" r="3.45"/><circle cx="1401.71" cy="920.49" r="3.45"/><circle cx="1403.5" cy="923.21" r="3.45"/><circle cx="1405.28" cy="923.1" r="3.45"/></g>
<polyline points="1138.51,923.5 1140.3,923.5 1142.08,923.5 1143.87,923.5 1145.65,923.5 1147.43,922.76 1149.22,922.31 1151,921.12 1152.79,919.93 1154.57,918.29 1156.36,916.66 1158.14,914.13 1159.93,911.6 1161.71,907.14 1163.49,902.67 1165.28,896.73 1167.06,888.39 1168.85,878.58 1170.63,871.44 1172.42,861.02 1174.2,850.61 1175.98,834.25 1177.77,819.38 1179.55,801.52 1181.34,783.67 1183.12,765.83 1184.91,745 1186.69,727.15 1188.48,715.25 1190.26,695.91 1192.04,687.58 1193.83,672.78 1195.61,665.64 1197.4,656.35 1199.18,644.44 1200.97,630.16 1202.75,631.06 1204.54,631.95 1206.32,629.27 1208.1,626.6 1209.89,628.38 1211.67,630.87 1213.46,634.08 1215.24,637.28 1217.03,640.34 1218.81,642.96 1220.59,651.49 1222.38,660.01 1224.16,668.54 1225.95,675.29 1227.73,682.67 1229.52,689.57 1231.3,695.32 1233.09,709.2 1234.87,714.63 1236.65,718.98 1238.44,730.39 1240.22,736.12 1242.01,745.28 1243.79,751.31 1245.58,769.99 1247.36,774.15 1249.14,781 1250.93,786.05 1252.71,800.04 1254.5,805.1 1256.28,811.43 1258.07,817.95 1259.85,824.61 1261.64,829.36 1263.42,835.15 1265.2,841.28 1266.99,846.51 1268.77,851.13 1270.56,855.74 1272.34,859.84 1274.13,863.4 1275.91,866.98 1277.7,870.54 1279.48,874.12 1281.26,877.39 1283.05,880.36 1284.83,883.34 1286.62,885.72 1288.4,888.1 1290.19,890.48 1291.97,892.86 1293.76,895.24 1295.54,897.02 1297.32,898.81 1299.11,900.59 1300.89,902.38 1302.68,904.16 1304.46,905.35 1306.25,906.54 1308.03,907.73 1309.81,908.92 1311.6,910.11 1313.38,910.71 1315.17,911.3 1316.95,911.98 1318.74,912.69 1320.52,912.45 1322.31,914.04 1324.09,914.84 1325.87,913.99 1327.66,915.1 1329.44,916.14 1331.23,916.03 1333.01,917.27 1334.8,916.97 1336.58,916.72 1338.37,917.31 1340.15,917.97 1341.93,919.04 1343.72,919.24 1345.5,919.83 1347.29,919.23 1349.07,919.88 1350.86,919.81 1352.64,920.72 1354.42,921.06 1356.21,920.36 1357.99,920.28 1359.78,920.65 1361.56,920.86 1363.35,920.93 1365.13,921.14 1366.92,921.99 1368.7,921.64 1370.48,921.97 1372.27,922.55 1374.05,922.64 1375.84,922.36 1377.62,922.47 1379.41,921.88 1381.19,921.51 1382.98,922.29 1384.76,921.58 1386.54,921.52 1388.33,921.59 1390.11,922.49 1391.9,922.73 1393.68,922.74 1395.47,922.8 1397.25,922.81 1399.03,922.2 1400.82,921.81 1402.6,921.92 1404.39,922.48" fill="none" stroke="#0b7d89" stroke-width="1"/>
<g fill="#0b7d89"><rect x="1135.11" y="920.1" width="6.8" height="6.8"/><rect x="1136.9" y="920.1" width="6.8" height="6.8"/><rect x="1138.68" y="920.1" width="6.8" height="6.8"/><rect x="1140.47" y="920.1" width="6.8" height="6.8"/><rect x="1142.25" y="920.1" width="6.8" height="6.8"/><rect x="1144.03" y="919.36" width="6.8" height="6.8"/><rect x="1145.82" y="918.91" width="6.8" height="6.8"/><rect x="1147.6" y="917.72" width="6.8" height="6.8"/><rect x="1149.39" y="916.53" width="6.8" height="6.8"/><rect x="1151.17" y="914.89" width="6.8" height="6.8"/><rect x="1152.96" y="913.26" width="6.8" height="6.8"/><rect x="1154.74" y="910.73" width="6.8" height="6.8"/><rect x="1156.53" y="908.2" width="6.8" height="6.8"/><rect x="1158.31" y="903.74" width="6.8" height="6.8"/><rect x="1160.09" y="899.27" width="6.8" height="6.8"/><rect x="1161.88" y="893.33" width="6.8" height="6.8"/><rect x="1163.66" y="885" width="6.8" height="6.8"/><rect x="1165.45" y="875.18" width="6.8" height="6.8"/><rect x="1167.23" y="868.04" width="6.8" height="6.8"/><rect x="1169.02" y="857.62" width="6.8" height="6.8"/><rect x="1170.8" y="847.21" width="6.8" height="6.8"/><rect x="1172.58" y="830.85" width="6.8" height="6.8"/><rect x="1174.37" y="815.98" width="6.8" height="6.8"/><rect x="1176.15" y="798.12" width="6.8" height="6.8"/><rect x="1177.94" y="780.27" width="6.8" height="6.8"/><rect x="1179.72" y="762.43" width="6.8" height="6.8"/><rect x="1181.51" y="741.6" width="6.8" height="6.8"/><rect x="1183.29" y="723.75" width="6.8" height="6.8"/><rect x="1185.08" y="711.85" width="6.8" height="6.8"/><rect x="1186.86" y="692.51" width="6.8" height="6.8"/><rect x="1188.64" y="684.18" width="6.8" height="6.8"/><rect x="1190.43" y="669.38" width="6.8" height="6.8"/><rect x="1192.21" y="662.24" width="6.8" height="6.8"/><rect x="1194" y="652.95" width="6.8" height="6.8"/><rect x="1195.78" y="641.04" width="6.8" height="6.8"/><rect x="1197.57" y="626.76" width="6.8" height="6.8"/><rect x="1199.35" y="627.66" width="6.8" height="6.8"/><rect x="1201.13" y="628.55" width="6.8" height="6.8"/><rect x="1202.92" y="625.87" width="6.8" height="6.8"/><rect x="1204.7" y="623.2" width="6.8" height="6.8"/><rect x="1206.49" y="624.98" width="6.8" height="6.8"/><rect x="1208.27" y="627.47" width="6.8" height="6.8"/><rect x="1210.06" y="630.68" width="6.8" height="6.8"/><rect x="1211.84" y="633.88" width="6.8" height="6.8"/><rect x="1213.63" y="636.94" width="6.8" height="6.8"/><rect x="1215.41" y="639.56" width="6.8" height="6.8"/><rect x="1217.19" y="648.09" width="6.8" height="6.8"/><rect x="1218.98" y="656.61" width="6.8" height="6.8"/><rect x="1220.76" y="665.14" width="6.8" height="6.8"/><rect x="1222.55" y="671.89" width="6.8" height="6.8"/><rect x="1224.33" y="679.27" width="6.8" height="6.8"/><rect x="1226.12" y="686.17" width="6.8" height="6.8"/><rect x="1227.9" y="691.92" width="6.8" height="6.8"/><rect x="1229.69" y="705.8" width="6.8" height="6.8"/><rect x="1231.47" y="711.23" width="6.8" height="6.8"/><rect x="1233.25" y="715.58" width="6.8" height="6.8"/><rect x="1235.04" y="726.99" width="6.8" height="6.8"/><rect x="1236.82" y="732.72" width="6.8" height="6.8"/><rect x="1238.61" y="741.88" width="6.8" height="6.8"/><rect x="1240.39" y="747.91" width="6.8" height="6.8"/><rect x="1242.18" y="766.59" width="6.8" height="6.8"/><rect x="1243.96" y="770.75" width="6.8" height="6.8"/><rect x="1245.74" y="777.6" width="6.8" height="6.8"/><rect x="1247.53" y="782.65" width="6.8" height="6.8"/><rect x="1249.31" y="796.64" width="6.8" height="6.8"/><rect x="1251.1" y="801.7" width="6.8" height="6.8"/><rect x="1252.88" y="808.03" width="6.8" height="6.8"/><rect x="1254.67" y="814.55" width="6.8" height="6.8"/><rect x="1256.45" y="821.21" width="6.8" height="6.8"/><rect x="1258.24" y="825.96" width="6.8" height="6.8"/><rect x="1260.02" y="831.75" width="6.8" height="6.8"/><rect x="1261.8" y="837.88" width="6.8" height="6.8"/><rect x="1263.59" y="843.11" width="6.8" height="6.8"/><rect x="1265.37" y="847.73" width="6.8" height="6.8"/><rect x="1267.16" y="852.34" width="6.8" height="6.8"/><rect x="1268.94" y="856.44" width="6.8" height="6.8"/><rect x="1270.73" y="860" width="6.8" height="6.8"/><rect x="1272.51" y="863.58" width="6.8" height="6.8"/><rect x="1274.3" y="867.14" width="6.8" height="6.8"/><rect x="1276.08" y="870.72" width="6.8" height="6.8"/><rect x="1277.86" y="873.99" width="6.8" height="6.8"/><rect x="1279.65" y="876.96" width="6.8" height="6.8"/><rect x="1281.43" y="879.94" width="6.8" height="6.8"/><rect x="1283.22" y="882.32" width="6.8" height="6.8"/><rect x="1285" y="884.7" width="6.8" height="6.8"/><rect x="1286.79" y="887.08" width="6.8" height="6.8"/><rect x="1288.57" y="889.46" width="6.8" height="6.8"/><rect x="1290.36" y="891.84" width="6.8" height="6.8"/><rect x="1292.14" y="893.62" width="6.8" height="6.8"/><rect x="1293.92" y="895.41" width="6.8" height="6.8"/><rect x="1295.71" y="897.19" width="6.8" height="6.8"/><rect x="1297.49" y="898.98" width="6.8" height="6.8"/><rect x="1299.28" y="900.76" width="6.8" height="6.8"/><rect x="1301.06" y="901.95" width="6.8" height="6.8"/><rect x="1302.85" y="903.14" width="6.8" height="6.8"/><rect x="1304.63" y="904.33" width="6.8" height="6.8"/><rect x="1306.41" y="905.52" width="6.8" height="6.8"/><rect x="1308.2" y="906.71" width="6.8" height="6.8"/><rect x="1309.98" y="907.31" width="6.8" height="6.8"/><rect x="1311.77" y="907.9" width="6.8" height="6.8"/><rect x="1313.55" y="908.58" width="6.8" height="6.8"/><rect x="1315.34" y="909.29" width="6.8" height="6.8"/><rect x="1317.12" y="909.05" width="6.8" height="6.8"/><rect x="1318.91" y="910.64" width="6.8" height="6.8"/><rect x="1320.69" y="911.44" width="6.8" height="6.8"/><rect x="1322.47" y="910.59" width="6.8" height="6.8"/><rect x="1324.26" y="911.7" width="6.8" height="6.8"/><rect x="1326.04" y="912.74" width="6.8" height="6.8"/><rect x="1327.83" y="912.63" width="6.8" height="6.8"/><rect x="1329.61" y="913.87" width="6.8" height="6.8"/><rect x="1331.4" y="913.57" width="6.8" height="6.8"/><rect x="1333.18" y="913.32" width="6.8" height="6.8"/><rect x="1334.96" y="913.91" width="6.8" height="6.8"/><rect x="1336.75" y="914.57" width="6.8" height="6.8"/><rect x="1338.53" y="915.64" width="6.8" height="6.8"/><rect x="1340.32" y="915.84" width="6.8" height="6.8"/><rect x="1342.1" y="916.43" width="6.8" height="6.8"/><rect x="1343.89" y="915.83" width="6.8" height="6.8"/><rect x="1345.67" y="916.48" width="6.8" height="6.8"/><rect x="1347.46" y="916.41" width="6.8" height="6.8"/><rect x="1349.24" y="917.32" width="6.8" height="6.8"/><rect x="1351.02" y="917.66" width="6.8" height="6.8"/><rect x="1352.81" y="916.96" width="6.8" height="6.8"/><rect x="1354.59" y="916.88" width="6.8" height="6.8"/><rect x="1356.38" y="917.25" width="6.8" height="6.8"/><rect x="1358.16" y="917.46" width="6.8" height="6.8"/><rect x="1359.95" y="917.53" width="6.8" height="6.8"/><rect x="1361.73" y="917.74" width="6.8" height="6.8"/><rect x="1363.52" y="918.59" width="6.8" height="6.8"/><rect x="1365.3" y="918.24" width="6.8" height="6.8"/><rect x="1367.08" y="918.57" width="6.8" height="6.8"/><rect x="1368.87" y="919.15" width="6.8" height="6.8"/><rect x="1370.65" y="919.24" width="6.8" height="6.8"/><rect x="1372.44" y="918.96" width="6.8" height="6.8"/><rect x="1374.22" y="919.07" width="6.8" height="6.8"/><rect x="1376.01" y="918.48" width="6.8" height="6.8"/><rect x="1377.79" y="918.11" width="6.8" height="6.8"/><rect x="1379.58" y="918.89" width="6.8" height="6.8"/><rect x="1381.36" y="918.18" width="6.8" height="6.8"/><rect x="1383.14" y="918.12" width="6.8" height="6.8"/><rect x="1384.93" y="918.19" width="6.8" height="6.8"/><rect x="1386.71" y="919.09" width="6.8" height="6.8"/><rect x="1388.5" y="919.33" width="6.8" height="6.8"/><rect x="1390.28" y="919.34" width="6.8" height="6.8"/><rect x="1392.07" y="919.4" width="6.8" height="6.8"/><rect x="1393.85" y="919.41" width="6.8" height="6.8"/><rect x="1395.63" y="918.8" width="6.8" height="6.8"/><rect x="1397.42" y="918.41" width="6.8" height="6.8"/><rect x="1399.2" y="918.52" width="6.8" height="6.8"/><rect x="1400.99" y="919.08" width="6.8" height="6.8"/></g>
<path d="M1048.4 924.35V565.65M1039 923.5H1406.28M1039 923.5h9.4M1043 893.75h5.4M1039 864h9.4M1043 834.25h5.4M1039 804.5h9.4M1043 774.75h5.4M1039 745h9.4M1043 715.25h5.4M1039 685.5h9.4M1043 655.75h5.4M1039 626h9.4M1043 596.25h5.4M1039 566.5h9.4M1048.4 923.5v10.2M1093.01 923.5v5.9M1137.62 923.5v10.2M1182.23 923.5v5.9M1226.84 923.5v10.2M1271.45 923.5v5.9M1316.06 923.5v10.2M1360.67 923.5v5.9M1405.28 923.5v10.2" stroke="#000" stroke-width="1.7" fill="none"/>
<path d="M1048.4 923.4H1405.55" stroke="#606060" stroke-width="8.4" stroke-linecap="round" fill="none"/>
<g fill="none" stroke="#5c5c5c" stroke-width="1.6"><circle cx="1048.4" cy="923.01" r="2.6"/><circle cx="1050.18" cy="922.91" r="2.6"/><circle cx="1051.97" cy="923.44" r="2.6"/><circle cx="1053.75" cy="923.01" r="2.6"/><circle cx="1055.54" cy="922.82" r="2.6"/><circle cx="1057.32" cy="922.92" r="2.6"/><circle cx="1059.11" cy="922.94" r="2.6"/><circle cx="1060.89" cy="923.14" r="2.6"/><circle cx="1062.68" cy="923.37" r="2.6"/><circle cx="1064.46" cy="922.91" r="2.6"/><circle cx="1066.24" cy="923.25" r="2.6"/><circle cx="1068.03" cy="922.9" r="2.6"/><circle cx="1069.81" cy="922.78" r="2.6"/><circle cx="1071.6" cy="923.21" r="2.6"/><circle cx="1073.38" cy="923.2" r="2.6"/><circle cx="1075.17" cy="922.8" r="2.6"/><circle cx="1076.95" cy="922.96" r="2.6"/><circle cx="1078.73" cy="923.37" r="2.6"/><circle cx="1080.52" cy="923.41" r="2.6"/><circle cx="1082.3" cy="923.39" r="2.6"/><circle cx="1084.09" cy="922.83" r="2.6"/><circle cx="1085.87" cy="922.9" r="2.6"/><circle cx="1087.66" cy="923.39" r="2.6"/><circle cx="1089.44" cy="922.89" r="2.6"/><circle cx="1091.23" cy="922.77" r="2.6"/><circle cx="1093.01" cy="923.01" r="2.6"/><circle cx="1094.79" cy="923.24" r="2.6"/><circle cx="1096.58" cy="923.09" r="2.6"/><circle cx="1098.36" cy="923.4" r="2.6"/><circle cx="1100.15" cy="923.49" r="2.6"/><circle cx="1101.93" cy="922.78" r="2.6"/><circle cx="1103.72" cy="923.02" r="2.6"/><circle cx="1105.5" cy="923.11" r="2.6"/><circle cx="1107.29" cy="922.81" r="2.6"/><circle cx="1109.07" cy="923.18" r="2.6"/><circle cx="1110.85" cy="922.85" r="2.6"/><circle cx="1112.64" cy="922.89" r="2.6"/><circle cx="1114.42" cy="923.34" r="2.6"/><circle cx="1116.21" cy="923.31" r="2.6"/><circle cx="1117.99" cy="923.28" r="2.6"/><circle cx="1119.78" cy="923.32" r="2.6"/><circle cx="1121.56" cy="923.06" r="2.6"/><circle cx="1123.34" cy="923.31" r="2.6"/><circle cx="1125.13" cy="923.19" r="2.6"/><circle cx="1126.91" cy="923.4" r="2.6"/><circle cx="1128.7" cy="922.82" r="2.6"/><circle cx="1130.48" cy="923.24" r="2.6"/><circle cx="1132.27" cy="923.16" r="2.6"/><circle cx="1134.05" cy="923.07" r="2.6"/><circle cx="1135.84" cy="922.83" r="2.6"/><circle cx="1137.62" cy="923.19" r="2.6"/><circle cx="1139.4" cy="922.82" r="2.6"/><circle cx="1141.19" cy="923.13" r="2.6"/><circle cx="1142.97" cy="923.1" r="2.6"/><circle cx="1144.76" cy="923.11" r="2.6"/><circle cx="1146.54" cy="923.49" r="2.6"/><circle cx="1148.33" cy="923.17" r="2.6"/><circle cx="1150.11" cy="923.36" r="2.6"/><circle cx="1151.9" cy="923.5" r="2.6"/><circle cx="1153.68" cy="922.91" r="2.6"/><circle cx="1155.46" cy="923.37" r="2.6"/><circle cx="1157.25" cy="923.15" r="2.6"/><circle cx="1159.03" cy="922.96" r="2.6"/><circle cx="1160.82" cy="923.09" r="2.6"/><circle cx="1162.6" cy="923.26" r="2.6"/><circle cx="1164.39" cy="923.11" r="2.6"/><circle cx="1166.17" cy="923.09" r="2.6"/><circle cx="1167.95" cy="922.92" r="2.6"/><circle cx="1169.74" cy="923.42" r="2.6"/><circle cx="1171.52" cy="923.08" r="2.6"/><circle cx="1173.31" cy="923.32" r="2.6"/><circle cx="1175.09" cy="923.29" r="2.6"/><circle cx="1176.88" cy="922.93" r="2.6"/><circle cx="1178.66" cy="923.12" r="2.6"/><circle cx="1180.45" cy="923.08" r="2.6"/><circle cx="1182.23" cy="922.93" r="2.6"/><circle cx="1184.01" cy="922.82" r="2.6"/><circle cx="1185.8" cy="923.17" r="2.6"/><circle cx="1187.58" cy="923.04" r="2.6"/><circle cx="1189.37" cy="923.12" r="2.6"/><circle cx="1191.15" cy="923.12" r="2.6"/><circle cx="1192.94" cy="922.98" r="2.6"/><circle cx="1194.72" cy="923.16" r="2.6"/><circle cx="1196.51" cy="923.1" r="2.6"/><circle cx="1198.29" cy="923.14" r="2.6"/><circle cx="1200.07" cy="922.8" r="2.6"/><circle cx="1201.86" cy="922.98" r="2.6"/><circle cx="1203.64" cy="922.85" r="2.6"/><circle cx="1205.43" cy="922.8" r="2.6"/><circle cx="1207.21" cy="923.31" r="2.6"/><circle cx="1209" cy="923.08" r="2.6"/><circle cx="1210.78" cy="922.8" r="2.6"/><circle cx="1212.56" cy="922.88" r="2.6"/><circle cx="1214.35" cy="923.4" r="2.6"/><circle cx="1216.13" cy="923.41" r="2.6"/><circle cx="1217.92" cy="923.17" r="2.6"/><circle cx="1219.7" cy="923.45" r="2.6"/><circle cx="1221.49" cy="923.32" r="2.6"/><circle cx="1223.27" cy="923.45" r="2.6"/><circle cx="1225.06" cy="923" r="2.6"/><circle cx="1226.84" cy="922.92" r="2.6"/><circle cx="1228.62" cy="922.83" r="2.6"/><circle cx="1230.41" cy="923.39" r="2.6"/><circle cx="1232.19" cy="922.97" r="2.6"/><circle cx="1233.98" cy="923.01" r="2.6"/><circle cx="1235.76" cy="923.39" r="2.6"/><circle cx="1237.55" cy="922.84" r="2.6"/><circle cx="1239.33" cy="922.78" r="2.6"/><circle cx="1241.12" cy="923.34" r="2.6"/><circle cx="1242.9" cy="922.79" r="2.6"/><circle cx="1244.68" cy="923.2" r="2.6"/><circle cx="1246.47" cy="923.14" r="2.6"/><circle cx="1248.25" cy="922.76" r="2.6"/><circle cx="1250.04" cy="922.88" r="2.6"/><circle cx="1251.82" cy="923.38" r="2.6"/><circle cx="1253.61" cy="923.18" r="2.6"/><circle cx="1255.39" cy="923.12" r="2.6"/><circle cx="1257.17" cy="923.25" r="2.6"/><circle cx="1258.96" cy="923.35" r="2.6"/><circle cx="1260.74" cy="923.26" r="2.6"/><circle cx="1262.53" cy="922.96" r="2.6"/><circle cx="1264.31" cy="923.49" r="2.6"/><circle cx="1266.1" cy="923.09" r="2.6"/><circle cx="1267.88" cy="923.17" r="2.6"/><circle cx="1269.67" cy="923.49" r="2.6"/><circle cx="1271.45" cy="923.25" r="2.6"/><circle cx="1273.23" cy="923.04" r="2.6"/><circle cx="1275.02" cy="923.12" r="2.6"/><circle cx="1276.8" cy="923.45" r="2.6"/><circle cx="1278.59" cy="922.77" r="2.6"/><circle cx="1280.37" cy="922.91" r="2.6"/><circle cx="1282.16" cy="922.78" r="2.6"/><circle cx="1283.94" cy="923.42" r="2.6"/><circle cx="1285.73" cy="923.3" r="2.6"/><circle cx="1287.51" cy="923.47" r="2.6"/><circle cx="1289.29" cy="922.92" r="2.6"/><circle cx="1291.08" cy="923.3" r="2.6"/><circle cx="1292.86" cy="923.4" r="2.6"/><circle cx="1294.65" cy="923.19" r="2.6"/><circle cx="1296.43" cy="922.82" r="2.6"/><circle cx="1298.22" cy="922.89" r="2.6"/><circle cx="1300" cy="923.31" r="2.6"/><circle cx="1301.78" cy="923.39" r="2.6"/><circle cx="1303.57" cy="922.82" r="2.6"/><circle cx="1305.35" cy="923.08" r="2.6"/><circle cx="1307.14" cy="922.98" r="2.6"/><circle cx="1308.92" cy="923.43" r="2.6"/><circle cx="1310.71" cy="923.46" r="2.6"/><circle cx="1312.49" cy="922.99" r="2.6"/><circle cx="1314.28" cy="923.18" r="2.6"/><circle cx="1316.06" cy="923.45" r="2.6"/><circle cx="1317.84" cy="922.8" r="2.6"/><circle cx="1319.63" cy="923.03" r="2.6"/><circle cx="1321.41" cy="922.9" r="2.6"/><circle cx="1323.2" cy="923.44" r="2.6"/><circle cx="1324.98" cy="922.86" r="2.6"/><circle cx="1326.77" cy="923.45" r="2.6"/><circle cx="1328.55" cy="922.86" r="2.6"/><circle cx="1330.34" cy="923.16" r="2.6"/><circle cx="1332.12" cy="923.25" r="2.6"/><circle cx="1333.9" cy="923.09" r="2.6"/><circle cx="1335.69" cy="922.81" r="2.6"/><circle cx="1337.47" cy="923.3" r="2.6"/><circle cx="1339.26" cy="923.4" r="2.6"/><circle cx="1341.04" cy="923.11" r="2.6"/><circle cx="1342.83" cy="923.32" r="2.6"/><circle cx="1344.61" cy="923.42" r="2.6"/><circle cx="1346.39" cy="923.38" r="2.6"/><circle cx="1348.18" cy="923.46" r="2.6"/><circle cx="1349.96" cy="923.35" r="2.6"/><circle cx="1351.75" cy="923.27" r="2.6"/><circle cx="1353.53" cy="923.27" r="2.6"/><circle cx="1355.32" cy="922.94" r="2.6"/><circle cx="1357.1" cy="923.28" r="2.6"/><circle cx="1358.89" cy="923.13" r="2.6"/><circle cx="1360.67" cy="923.37" r="2.6"/><circle cx="1362.45" cy="923.24" r="2.6"/><circle cx="1364.24" cy="923.49" r="2.6"/><circle cx="1366.02" cy="923.31" r="2.6"/><circle cx="1367.81" cy="923.49" r="2.6"/><circle cx="1369.59" cy="922.95" r="2.6"/><circle cx="1371.38" cy="923.09" r="2.6"/><circle cx="1373.16" cy="923.36" r="2.6"/><circle cx="1374.95" cy="923.15" r="2.6"/><circle cx="1376.73" cy="922.8" r="2.6"/><circle cx="1378.51" cy="923.42" r="2.6"/><circle cx="1380.3" cy="922.89" r="2.6"/><circle cx="1382.08" cy="923.18" r="2.6"/><circle cx="1383.87" cy="923.13" r="2.6"/><circle cx="1385.65" cy="922.88" r="2.6"/><circle cx="1387.44" cy="923.21" r="2.6"/><circle cx="1389.22" cy="923.12" r="2.6"/><circle cx="1391" cy="922.99" r="2.6"/><circle cx="1392.79" cy="922.77" r="2.6"/><circle cx="1394.57" cy="923.25" r="2.6"/><circle cx="1396.36" cy="922.88" r="2.6"/><circle cx="1398.14" cy="922.97" r="2.6"/><circle cx="1399.93" cy="923.03" r="2.6"/><circle cx="1401.71" cy="923.2" r="2.6"/><circle cx="1403.5" cy="923.24" r="2.6"/><circle cx="1405.28" cy="923.46" r="2.6"/></g>
<path d="M1127.36 915.7V921.7h6M1146.9 915.7V921.7h-6" stroke="#6d2aa2" stroke-width="1.8" fill="none"/>
<path d="M1240.49 915.7V921.7h6M1260.03 915.7V921.7h-6" stroke="#90d146" stroke-width="1.8" fill="none"/>
<text x="1034" y="932.5" font-size="25" text-anchor="end">0</text>
<text x="1034" y="873" font-size="25" text-anchor="end">20</text>
<text x="1034" y="813.5" font-size="25" text-anchor="end">40</text>
<text x="1034" y="754" font-size="25" text-anchor="end">60</text>
<text x="1034" y="694.5" font-size="25" text-anchor="end">80</text>
<text x="1034" y="635" font-size="25" text-anchor="end">100</text>
<text x="1034" y="575.5" font-size="25" text-anchor="end">120</text>
<text x="1048.4" y="957.6" font-size="25" text-anchor="middle">300</text>
<text x="1137.62" y="957.6" font-size="25" text-anchor="middle">400</text>
<text x="1226.84" y="957.6" font-size="25" text-anchor="middle">500</text>
<text x="1316.06" y="957.6" font-size="25" text-anchor="middle">600</text>
<text x="1395.78" y="957.6" font-size="25" text-anchor="middle">700</text>
<text x="1226.5" y="987" font-size="25" text-anchor="middle">Wavelength (nm)</text>
<text transform="translate(980.2 746) rotate(-90)" font-size="25" text-anchor="middle">Normalized luminescence (%)</text>
<circle cx="1068.6" cy="563.9" r="3.7" fill="#b39ddb"/><text x="1079.6" y="571.5" font-size="21.2">RLuc-PP-CTZ</text>
<circle cx="1068.6" cy="590.9" r="3.5" fill="none" stroke="#585858" stroke-width="1.3"/><text x="1079.6" y="598" font-size="21.2">RLuc-DTZ</text>
<rect x="1235" y="560.7" width="7.1" height="6.8" fill="#0b7d89"/><text x="1249.8" y="571.5" font-size="21.2">LuxSit-i-DTZ</text>
<rect x="1235" y="587.2" width="7.4" height="7.3" fill="none" stroke="#ababab" stroke-width="1.4"/><text x="1249.8" y="598" font-size="21.2">LuxSit-i-PP-CTZ</text>
</g>
<g font-family="Liberation Sans, sans-serif" fill="#000">
<path d="M30.7 1103.1V1210.3Q30.7 1216.8 37.2 1216.8H132.7Q139.2 1216.8 139.2 1210.3V1103.1Z" fill="#ccd3e7" stroke="#a9b4d5" stroke-width="0.5"/>
<rect x="34.1" y="1102.1" width="101.7" height="3" fill="#fff"/>
<path d="M34.1 1104.3V1207.9Q34.1 1210.9 37.1 1210.9H132.8Q135.8 1210.9 135.8 1207.9V1104.3Z" fill="#f5f8fe"/>
<path d="M34.1 1128V1207.9Q34.1 1210.9 37.1 1210.9H132.8Q135.8 1210.9 135.8 1207.9V1128Z" fill="#fbf5f8"/>
<path d="M34.1 1128H135.8" stroke="#dcbfd3" stroke-width="0.9"/>
<path d="M34.3 1128V1207.9M135.6 1128V1207.9" stroke="#dcbfd3" stroke-width="0.5" fill="none"/>
<path d="M34.1 1104.8H135.8" stroke="#cfd2d8" stroke-width="1.1"/>
<circle cx="45.7" cy="1202.3" r="8.6" fill="#fbbd7d"/><circle cx="45.7" cy="1202.3" r="4.04" fill="#f0a162"/>
<circle cx="65.5" cy="1202.3" r="8.6" fill="#fbbd7d"/><circle cx="65.5" cy="1202.3" r="4.04" fill="#f0a162"/>
<circle cx="85.1" cy="1202.3" r="8.6" fill="#fbbd7d"/><circle cx="85.1" cy="1202.3" r="4.04" fill="#f0a162"/>
<circle cx="104.4" cy="1202.3" r="8.6" fill="#fbbd7d"/><circle cx="104.4" cy="1202.3" r="4.04" fill="#f0a162"/>
<circle cx="123.2" cy="1202.3" r="8.6" fill="#fbbd7d"/><circle cx="123.2" cy="1202.3" r="4.04" fill="#f0a162"/>
<path d="M316.4 1104.3V1211.1Q316.4 1217.6 322.9 1217.6H418.7Q425.2 1217.6 425.2 1211.1V1104.3Z" fill="#ccd3e7" stroke="#a9b4d5" stroke-width="0.5"/>
<rect x="319.8" y="1103.3" width="102" height="3" fill="#fff"/>
<path d="M319.8 1105.5V1208.7Q319.8 1211.7 322.8 1211.7H418.8Q421.8 1211.7 421.8 1208.7V1105.5Z" fill="#f5f8fe"/>
<path d="M319.8 1129V1208.7Q319.8 1211.7 322.8 1211.7H418.8Q421.8 1211.7 421.8 1208.7V1129Z" fill="#fbf5f8"/>
<path d="M319.8 1129H421.8" stroke="#dcbfd3" stroke-width="0.9"/>
<path d="M320 1129V1208.7M421.6 1129V1208.7" stroke="#dcbfd3" stroke-width="0.5" fill="none"/>
<path d="M319.8 1106H421.8" stroke="#cfd2d8" stroke-width="1.1"/>
<circle cx="331.7" cy="1203.3" r="8.6" fill="#fbbd7d"/><circle cx="331.7" cy="1203.3" r="4.04" fill="#f0a162"/>
<circle cx="351.5" cy="1203.3" r="8.6" fill="#fbbd7d"/><circle cx="351.5" cy="1203.3" r="4.04" fill="#f0a162"/>
<circle cx="371.1" cy="1203.3" r="8.6" fill="#fbbd7d"/><circle cx="371.1" cy="1203.3" r="4.04" fill="#f0a162"/>
<circle cx="390.3" cy="1203.3" r="8.6" fill="#fbbd7d"/><circle cx="390.3" cy="1203.3" r="4.04" fill="#f0a162"/>
<circle cx="409.1" cy="1203.3" r="8.6" fill="#fbbd7d"/><circle cx="409.1" cy="1203.3" r="4.04" fill="#f0a162"/>
<path d="M381.2 1153.3L381.6 1153.64L381.97 1153.99L382.31 1154.36L382.6 1154.75L382.82 1155.15L382.98 1155.55L383.07 1155.94L383.07 1156.33L382.99 1156.71L382.83 1157.06L382.59 1157.39L382.29 1157.68L381.92 1157.94L381.5 1158.17L381.03 1158.37L380.55 1158.53L380.04 1158.66L379.54 1158.77L379.05 1158.87L378.59 1158.95L378.15 1159.03L377.77 1159.12L377.43 1159.23L377.14 1159.36L376.91 1159.52L376.73 1159.72L376.6 1159.96L376.52 1160.25L376.48 1160.59L376.47 1160.97L376.48 1161.39L376.5 1161.85L376.52 1162.34L376.53 1162.85L376.52 1163.37L376.49 1163.88L376.42 1164.38L376.31 1164.86L376.15 1165.3L375.95 1165.69L375.71 1166.02L375.42 1166.28L375.09 1166.48L374.72 1166.59L374.32 1166.63L373.9 1166.6L373.47 1166.49L373.03 1166.32L372.59 1166.1L372.16 1165.83L371.74 1165.53L371.33 1165.2L370.95 1164.88L370.58 1164.56L370.24 1164.27L369.93 1164.01L369.63 1163.79L369.34 1163.63L369.07 1163.53L368.8 1163.5L368.53 1163.53L368.26 1163.63L367.97 1163.79L367.67 1164.01L367.36 1164.27L367.02 1164.56L366.65 1164.88L366.27 1165.2L365.86 1165.53L365.44 1165.83L365.01 1166.1L364.57 1166.32L364.13 1166.49L363.7 1166.6L363.28 1166.63L362.88 1166.59L362.51 1166.48L362.18 1166.28L361.89 1166.02L361.65 1165.69L361.45 1165.3L361.29 1164.86L361.18 1164.38L361.11 1163.88L361.08 1163.37L361.07 1162.85L361.08 1162.34L361.1 1161.85L361.12 1161.39L361.13 1160.97L361.12 1160.59L361.08 1160.25L361 1159.96L360.87 1159.72L360.69 1159.52L360.46 1159.36L360.17 1159.23L359.83 1159.12L359.45 1159.03L359.01 1158.95L358.55 1158.87L358.06 1158.77L357.56 1158.66L357.05 1158.53L356.57 1158.37L356.1 1158.17L355.68 1157.94L355.31 1157.68L355.01 1157.39L354.77 1157.06L354.61 1156.71L354.53 1156.33L354.53 1155.94L354.62 1155.55L354.78 1155.15L355 1154.75L355.29 1154.36L355.63 1153.99L356 1153.64L356.4 1153.3L356.81 1152.99L357.2 1152.69L357.58 1152.42L357.93 1152.16L358.24 1151.91L358.49 1151.67L358.68 1151.42L358.81 1151.18L358.88 1150.92L358.88 1150.64L358.81 1150.34L358.7 1150.02L358.54 1149.67L358.34 1149.29L358.12 1148.88L357.89 1148.44L357.66 1147.99L357.44 1147.51L357.26 1147.03L357.11 1146.55L357.01 1146.07L356.97 1145.62L356.99 1145.18L357.08 1144.78L357.23 1144.42L357.46 1144.11L357.74 1143.86L358.09 1143.66L358.49 1143.52L358.93 1143.43L359.41 1143.4L359.9 1143.42L360.41 1143.48L360.92 1143.57L361.43 1143.69L361.91 1143.82L362.37 1143.95L362.8 1144.06L363.2 1144.15L363.55 1144.21L363.87 1144.23L364.16 1144.19L364.41 1144.09L364.63 1143.94L364.83 1143.72L365.02 1143.45L365.19 1143.12L365.37 1142.74L365.55 1142.32L365.74 1141.87L365.95 1141.41L366.17 1140.95L366.43 1140.49L366.7 1140.07L367.01 1139.68L367.33 1139.34L367.68 1139.07L368.04 1138.87L368.42 1138.74L368.8 1138.7L369.18 1138.74L369.56 1138.87L369.92 1139.07L370.27 1139.34L370.59 1139.68L370.9 1140.07L371.17 1140.49L371.43 1140.95L371.65 1141.41L371.86 1141.87L372.05 1142.32L372.23 1142.74L372.41 1143.12L372.58 1143.45L372.77 1143.72L372.97 1143.94L373.19 1144.09L373.44 1144.19L373.73 1144.23L374.05 1144.21L374.4 1144.15L374.8 1144.06L375.23 1143.95L375.69 1143.82L376.17 1143.69L376.68 1143.57L377.19 1143.48L377.7 1143.42L378.19 1143.4L378.67 1143.43L379.11 1143.52L379.51 1143.66L379.86 1143.86L380.14 1144.11L380.37 1144.42L380.52 1144.78L380.61 1145.18L380.63 1145.62L380.59 1146.07L380.49 1146.55L380.34 1147.03L380.16 1147.51L379.94 1147.99L379.71 1148.44L379.48 1148.88L379.26 1149.29L379.06 1149.67L378.9 1150.02L378.79 1150.34L378.72 1150.64L378.72 1150.92L378.79 1151.18L378.92 1151.42L379.11 1151.67L379.36 1151.91L379.67 1152.16L380.02 1152.42L380.4 1152.69L380.79 1152.99L381.2 1153.3Z" fill="none" stroke="#5b2bb8" stroke-width="1.1"/><path d="M383.2 1153.3L383 1153.67L382.72 1154.03L382.39 1154.37L382 1154.69L381.58 1154.98L381.14 1155.25L380.69 1155.5L380.24 1155.73L379.82 1155.95L379.42 1156.15L379.07 1156.34L378.77 1156.54L378.53 1156.74L378.34 1156.96L378.22 1157.2L378.17 1157.47L378.17 1157.77L378.22 1158.1L378.31 1158.46L378.43 1158.86L378.58 1159.29L378.74 1159.76L378.9 1160.24L379.04 1160.74L379.15 1161.24L379.23 1161.74L379.26 1162.23L379.24 1162.7L379.16 1163.13L379.03 1163.53L378.83 1163.87L378.57 1164.15L378.26 1164.37L377.89 1164.53L377.48 1164.62L377.04 1164.64L376.57 1164.61L376.09 1164.52L375.59 1164.39L375.1 1164.22L374.62 1164.03L374.16 1163.82L373.72 1163.62L373.31 1163.43L372.93 1163.27L372.58 1163.14L372.26 1163.06L371.97 1163.04L371.7 1163.08L371.45 1163.18L371.21 1163.35L370.98 1163.58L370.76 1163.86L370.53 1164.2L370.28 1164.57L370.03 1164.98L369.75 1165.4L369.46 1165.82L369.14 1166.23L368.8 1166.62L368.44 1166.96L368.07 1167.25L367.68 1167.48L367.29 1167.64L366.9 1167.72L366.52 1167.72L366.14 1167.63L365.79 1167.47L365.46 1167.23L365.15 1166.92L364.88 1166.54L364.63 1166.12L364.42 1165.66L364.24 1165.18L364.09 1164.68L363.95 1164.19L363.83 1163.71L363.72 1163.26L363.61 1162.85L363.5 1162.49L363.36 1162.17L363.21 1161.91L363.02 1161.71L362.8 1161.56L362.53 1161.47L362.22 1161.42L361.87 1161.41L361.48 1161.43L361.04 1161.47L360.57 1161.53L360.08 1161.58L359.57 1161.61L359.05 1161.63L358.53 1161.61L358.04 1161.56L357.56 1161.46L357.13 1161.32L356.75 1161.13L356.42 1160.88L356.16 1160.6L355.98 1160.26L355.86 1159.89L355.82 1159.49L355.86 1159.06L355.96 1158.62L356.12 1158.17L356.34 1157.71L356.59 1157.27L356.88 1156.83L357.18 1156.41L357.48 1156.02L357.77 1155.65L358.03 1155.3L358.26 1154.97L358.43 1154.66L358.56 1154.38L358.62 1154.1L358.61 1153.83L358.54 1153.57L358.4 1153.3L358.2 1153.02L357.95 1152.73L357.66 1152.42L357.34 1152.1L356.99 1151.75L356.64 1151.37L356.3 1150.98L355.98 1150.58L355.7 1150.16L355.47 1149.73L355.29 1149.3L355.18 1148.88L355.15 1148.47L355.19 1148.08L355.31 1147.71L355.51 1147.38L355.78 1147.09L356.12 1146.84L356.51 1146.63L356.96 1146.46L357.44 1146.34L357.94 1146.25L358.46 1146.19L358.97 1146.16L359.48 1146.14L359.96 1146.14L360.4 1146.13L360.81 1146.11L361.17 1146.06L361.49 1145.99L361.76 1145.88L361.97 1145.72L362.15 1145.51L362.28 1145.25L362.39 1144.94L362.46 1144.58L362.52 1144.17L362.58 1143.72L362.64 1143.24L362.7 1142.74L362.79 1142.23L362.9 1141.72L363.05 1141.23L363.22 1140.77L363.44 1140.36L363.69 1139.99L363.98 1139.69L364.3 1139.46L364.65 1139.3L365.03 1139.23L365.42 1139.23L365.83 1139.32L366.24 1139.48L366.65 1139.7L367.05 1139.99L367.44 1140.31L367.81 1140.67L368.16 1141.05L368.49 1141.44L368.8 1141.82L369.09 1142.17L369.37 1142.49L369.63 1142.76L369.89 1142.98L370.14 1143.13L370.4 1143.22L370.66 1143.25L370.94 1143.21L371.25 1143.11L371.57 1142.96L371.92 1142.76L372.3 1142.53L372.7 1142.28L373.13 1142.02L373.58 1141.77L374.04 1141.53L374.51 1141.33L374.98 1141.17L375.45 1141.06L375.9 1141.01L376.32 1141.03L376.71 1141.11L377.07 1141.27L377.37 1141.5L377.63 1141.79L377.83 1142.15L377.98 1142.55L378.07 1143L378.11 1143.49L378.11 1143.99L378.07 1144.5L378 1145.02L377.91 1145.52L377.81 1146.01L377.71 1146.46L377.63 1146.89L377.57 1147.27L377.55 1147.62L377.57 1147.93L377.64 1148.2L377.77 1148.43L377.96 1148.63L378.21 1148.81L378.51 1148.97L378.87 1149.13L379.28 1149.28L379.71 1149.43L380.18 1149.6L380.66 1149.79L381.13 1150L381.59 1150.23L382.02 1150.49L382.41 1150.78L382.75 1151.09L383.02 1151.43L383.22 1151.78L383.34 1152.16L383.38 1152.54L383.33 1152.92L383.2 1153.3Z" fill="none" stroke="#7a4fd8" stroke-width="1.1"/>
<path d="M354.5 1177.5L354.9 1177.84L355.27 1178.19L355.61 1178.56L355.9 1178.95L356.12 1179.35L356.28 1179.75L356.37 1180.14L356.37 1180.53L356.29 1180.91L356.13 1181.26L355.89 1181.59L355.59 1181.88L355.22 1182.14L354.8 1182.37L354.33 1182.57L353.85 1182.73L353.34 1182.86L352.84 1182.97L352.35 1183.07L351.89 1183.15L351.45 1183.23L351.07 1183.32L350.73 1183.43L350.44 1183.56L350.21 1183.72L350.03 1183.92L349.9 1184.16L349.82 1184.45L349.78 1184.79L349.77 1185.17L349.78 1185.59L349.8 1186.05L349.82 1186.54L349.83 1187.05L349.82 1187.57L349.79 1188.08L349.72 1188.58L349.61 1189.06L349.45 1189.5L349.25 1189.89L349.01 1190.22L348.72 1190.48L348.39 1190.68L348.02 1190.79L347.62 1190.83L347.2 1190.8L346.77 1190.69L346.33 1190.52L345.89 1190.3L345.46 1190.03L345.04 1189.73L344.63 1189.4L344.25 1189.08L343.88 1188.76L343.54 1188.47L343.23 1188.21L342.93 1187.99L342.64 1187.83L342.37 1187.73L342.1 1187.7L341.83 1187.73L341.56 1187.83L341.27 1187.99L340.97 1188.21L340.66 1188.47L340.32 1188.76L339.95 1189.08L339.57 1189.4L339.16 1189.73L338.74 1190.03L338.31 1190.3L337.87 1190.52L337.43 1190.69L337 1190.8L336.58 1190.83L336.18 1190.79L335.81 1190.68L335.48 1190.48L335.19 1190.22L334.95 1189.89L334.75 1189.5L334.59 1189.06L334.48 1188.58L334.41 1188.08L334.38 1187.57L334.37 1187.05L334.38 1186.54L334.4 1186.05L334.42 1185.59L334.43 1185.17L334.42 1184.79L334.38 1184.45L334.3 1184.16L334.17 1183.92L333.99 1183.72L333.76 1183.56L333.47 1183.43L333.13 1183.32L332.75 1183.23L332.31 1183.15L331.85 1183.07L331.36 1182.97L330.86 1182.86L330.35 1182.73L329.87 1182.57L329.4 1182.37L328.98 1182.14L328.61 1181.88L328.31 1181.59L328.07 1181.26L327.91 1180.91L327.83 1180.53L327.83 1180.14L327.92 1179.75L328.08 1179.35L328.3 1178.95L328.59 1178.56L328.93 1178.19L329.3 1177.84L329.7 1177.5L330.11 1177.19L330.5 1176.89L330.88 1176.62L331.23 1176.36L331.54 1176.11L331.79 1175.87L331.98 1175.62L332.11 1175.38L332.18 1175.12L332.18 1174.84L332.11 1174.54L332 1174.22L331.84 1173.87L331.64 1173.49L331.42 1173.08L331.19 1172.64L330.96 1172.19L330.74 1171.71L330.56 1171.23L330.41 1170.75L330.31 1170.27L330.27 1169.82L330.29 1169.38L330.38 1168.98L330.53 1168.62L330.76 1168.31L331.04 1168.06L331.39 1167.86L331.79 1167.72L332.23 1167.63L332.71 1167.6L333.2 1167.62L333.71 1167.68L334.22 1167.77L334.73 1167.89L335.21 1168.02L335.67 1168.15L336.1 1168.26L336.5 1168.35L336.85 1168.41L337.17 1168.43L337.46 1168.39L337.71 1168.29L337.93 1168.14L338.13 1167.92L338.32 1167.65L338.49 1167.32L338.67 1166.94L338.85 1166.52L339.04 1166.07L339.25 1165.61L339.47 1165.15L339.73 1164.69L340 1164.27L340.31 1163.88L340.63 1163.54L340.98 1163.27L341.34 1163.07L341.72 1162.94L342.1 1162.9L342.48 1162.94L342.86 1163.07L343.22 1163.27L343.57 1163.54L343.89 1163.88L344.2 1164.27L344.47 1164.69L344.73 1165.15L344.95 1165.61L345.16 1166.07L345.35 1166.52L345.53 1166.94L345.71 1167.32L345.88 1167.65L346.07 1167.92L346.27 1168.14L346.49 1168.29L346.74 1168.39L347.03 1168.43L347.35 1168.41L347.7 1168.35L348.1 1168.26L348.53 1168.15L348.99 1168.02L349.47 1167.89L349.98 1167.77L350.49 1167.68L351 1167.62L351.49 1167.6L351.97 1167.63L352.41 1167.72L352.81 1167.86L353.16 1168.06L353.44 1168.31L353.67 1168.62L353.82 1168.98L353.91 1169.38L353.93 1169.82L353.89 1170.27L353.79 1170.75L353.64 1171.23L353.46 1171.71L353.24 1172.19L353.01 1172.64L352.78 1173.08L352.56 1173.49L352.36 1173.87L352.2 1174.22L352.09 1174.54L352.02 1174.84L352.02 1175.12L352.09 1175.38L352.22 1175.62L352.41 1175.87L352.66 1176.11L352.97 1176.36L353.32 1176.62L353.7 1176.89L354.09 1177.19L354.5 1177.5Z" fill="none" stroke="#1f5a1f" stroke-width="1.1"/><path d="M356.5 1177.5L356.3 1177.87L356.02 1178.23L355.69 1178.57L355.3 1178.89L354.88 1179.18L354.44 1179.45L353.99 1179.7L353.54 1179.93L353.12 1180.15L352.72 1180.35L352.37 1180.54L352.07 1180.74L351.83 1180.94L351.64 1181.16L351.52 1181.4L351.47 1181.67L351.47 1181.97L351.52 1182.3L351.61 1182.66L351.73 1183.06L351.88 1183.49L352.04 1183.96L352.2 1184.44L352.34 1184.94L352.45 1185.44L352.53 1185.94L352.56 1186.43L352.54 1186.9L352.46 1187.33L352.33 1187.73L352.13 1188.07L351.87 1188.35L351.56 1188.57L351.19 1188.73L350.78 1188.82L350.34 1188.84L349.87 1188.81L349.39 1188.72L348.89 1188.59L348.4 1188.42L347.92 1188.23L347.46 1188.02L347.02 1187.82L346.61 1187.63L346.23 1187.47L345.88 1187.34L345.56 1187.26L345.27 1187.24L345 1187.28L344.75 1187.38L344.51 1187.55L344.28 1187.78L344.06 1188.06L343.83 1188.4L343.58 1188.77L343.33 1189.18L343.05 1189.6L342.76 1190.02L342.44 1190.43L342.1 1190.82L341.74 1191.16L341.37 1191.45L340.98 1191.68L340.59 1191.84L340.2 1191.92L339.82 1191.92L339.44 1191.83L339.09 1191.67L338.76 1191.43L338.45 1191.12L338.18 1190.74L337.93 1190.32L337.72 1189.86L337.54 1189.38L337.39 1188.88L337.25 1188.39L337.13 1187.91L337.02 1187.46L336.91 1187.05L336.8 1186.69L336.66 1186.37L336.51 1186.11L336.32 1185.91L336.1 1185.76L335.83 1185.67L335.52 1185.62L335.17 1185.61L334.78 1185.63L334.34 1185.67L333.87 1185.73L333.38 1185.78L332.87 1185.81L332.35 1185.83L331.83 1185.81L331.34 1185.76L330.86 1185.66L330.43 1185.52L330.05 1185.33L329.72 1185.08L329.46 1184.8L329.28 1184.46L329.16 1184.09L329.12 1183.69L329.16 1183.26L329.26 1182.82L329.42 1182.37L329.64 1181.91L329.89 1181.47L330.18 1181.03L330.48 1180.61L330.78 1180.22L331.07 1179.85L331.33 1179.5L331.56 1179.17L331.73 1178.86L331.86 1178.58L331.92 1178.3L331.91 1178.03L331.84 1177.77L331.7 1177.5L331.5 1177.22L331.25 1176.93L330.96 1176.62L330.64 1176.3L330.29 1175.95L329.94 1175.57L329.6 1175.18L329.28 1174.78L329 1174.36L328.77 1173.93L328.59 1173.5L328.48 1173.08L328.45 1172.67L328.49 1172.28L328.61 1171.91L328.81 1171.58L329.08 1171.29L329.42 1171.04L329.81 1170.83L330.26 1170.66L330.74 1170.54L331.24 1170.45L331.76 1170.39L332.27 1170.36L332.78 1170.34L333.26 1170.34L333.7 1170.33L334.11 1170.31L334.47 1170.26L334.79 1170.19L335.06 1170.08L335.27 1169.92L335.45 1169.71L335.58 1169.45L335.69 1169.14L335.76 1168.78L335.82 1168.37L335.88 1167.92L335.94 1167.44L336 1166.94L336.09 1166.43L336.2 1165.92L336.35 1165.43L336.52 1164.97L336.74 1164.56L336.99 1164.19L337.28 1163.89L337.6 1163.66L337.95 1163.5L338.33 1163.43L338.72 1163.43L339.13 1163.52L339.54 1163.68L339.95 1163.9L340.35 1164.19L340.74 1164.51L341.11 1164.87L341.46 1165.25L341.79 1165.64L342.1 1166.02L342.39 1166.37L342.67 1166.69L342.93 1166.96L343.19 1167.18L343.44 1167.33L343.7 1167.42L343.96 1167.45L344.24 1167.41L344.55 1167.31L344.87 1167.16L345.22 1166.96L345.6 1166.73L346 1166.48L346.43 1166.22L346.88 1165.97L347.34 1165.73L347.81 1165.53L348.28 1165.37L348.75 1165.26L349.2 1165.21L349.62 1165.23L350.01 1165.31L350.37 1165.47L350.67 1165.7L350.93 1165.99L351.13 1166.35L351.28 1166.75L351.37 1167.2L351.41 1167.69L351.41 1168.19L351.37 1168.7L351.3 1169.22L351.21 1169.72L351.11 1170.21L351.01 1170.66L350.93 1171.09L350.87 1171.47L350.85 1171.82L350.87 1172.13L350.94 1172.4L351.07 1172.63L351.26 1172.83L351.51 1173.01L351.81 1173.17L352.17 1173.33L352.58 1173.48L353.01 1173.63L353.48 1173.8L353.96 1173.99L354.43 1174.2L354.89 1174.43L355.32 1174.69L355.71 1174.98L356.05 1175.29L356.32 1175.63L356.52 1175.98L356.64 1176.36L356.68 1176.74L356.63 1177.12L356.5 1177.5Z" fill="none" stroke="#2c4a1c" stroke-width="1.1"/>
<path d="M410.9 1174.6L411.3 1174.94L411.67 1175.29L412.01 1175.66L412.3 1176.05L412.52 1176.45L412.68 1176.85L412.77 1177.24L412.77 1177.63L412.69 1178.01L412.53 1178.36L412.29 1178.69L411.99 1178.98L411.62 1179.24L411.2 1179.47L410.73 1179.67L410.25 1179.83L409.74 1179.96L409.24 1180.07L408.75 1180.17L408.29 1180.25L407.85 1180.33L407.47 1180.42L407.13 1180.53L406.84 1180.66L406.61 1180.82L406.43 1181.02L406.3 1181.26L406.22 1181.55L406.18 1181.89L406.17 1182.27L406.18 1182.69L406.2 1183.15L406.22 1183.64L406.23 1184.15L406.22 1184.67L406.19 1185.18L406.12 1185.68L406.01 1186.16L405.85 1186.6L405.65 1186.99L405.41 1187.32L405.12 1187.58L404.79 1187.78L404.42 1187.89L404.02 1187.93L403.6 1187.9L403.17 1187.79L402.73 1187.62L402.29 1187.4L401.86 1187.13L401.44 1186.83L401.03 1186.5L400.65 1186.18L400.28 1185.86L399.94 1185.57L399.63 1185.31L399.33 1185.09L399.04 1184.93L398.77 1184.83L398.5 1184.8L398.23 1184.83L397.96 1184.93L397.67 1185.09L397.37 1185.31L397.06 1185.57L396.72 1185.86L396.35 1186.18L395.97 1186.5L395.56 1186.83L395.14 1187.13L394.71 1187.4L394.27 1187.62L393.83 1187.79L393.4 1187.9L392.98 1187.93L392.58 1187.89L392.21 1187.78L391.88 1187.58L391.59 1187.32L391.35 1186.99L391.15 1186.6L390.99 1186.16L390.88 1185.68L390.81 1185.18L390.78 1184.67L390.77 1184.15L390.78 1183.64L390.8 1183.15L390.82 1182.69L390.83 1182.27L390.82 1181.89L390.78 1181.55L390.7 1181.26L390.57 1181.02L390.39 1180.82L390.16 1180.66L389.87 1180.53L389.53 1180.42L389.15 1180.33L388.71 1180.25L388.25 1180.17L387.76 1180.07L387.26 1179.96L386.75 1179.83L386.27 1179.67L385.8 1179.47L385.38 1179.24L385.01 1178.98L384.71 1178.69L384.47 1178.36L384.31 1178.01L384.23 1177.63L384.23 1177.24L384.32 1176.85L384.48 1176.45L384.7 1176.05L384.99 1175.66L385.33 1175.29L385.7 1174.94L386.1 1174.6L386.51 1174.29L386.9 1173.99L387.28 1173.72L387.63 1173.46L387.94 1173.21L388.19 1172.97L388.38 1172.72L388.51 1172.48L388.58 1172.22L388.58 1171.94L388.51 1171.64L388.4 1171.32L388.24 1170.97L388.04 1170.59L387.82 1170.18L387.59 1169.74L387.36 1169.29L387.14 1168.81L386.96 1168.33L386.81 1167.85L386.71 1167.37L386.67 1166.92L386.69 1166.48L386.78 1166.08L386.93 1165.72L387.16 1165.41L387.44 1165.16L387.79 1164.96L388.19 1164.82L388.63 1164.73L389.11 1164.7L389.6 1164.72L390.11 1164.78L390.62 1164.87L391.13 1164.99L391.61 1165.12L392.07 1165.25L392.5 1165.36L392.9 1165.45L393.25 1165.51L393.57 1165.53L393.86 1165.49L394.11 1165.39L394.33 1165.24L394.53 1165.02L394.72 1164.75L394.89 1164.42L395.07 1164.04L395.25 1163.62L395.44 1163.17L395.65 1162.71L395.87 1162.25L396.13 1161.79L396.4 1161.37L396.71 1160.98L397.03 1160.64L397.38 1160.37L397.74 1160.17L398.12 1160.04L398.5 1160L398.88 1160.04L399.26 1160.17L399.62 1160.37L399.97 1160.64L400.29 1160.98L400.6 1161.37L400.87 1161.79L401.13 1162.25L401.35 1162.71L401.56 1163.17L401.75 1163.62L401.93 1164.04L402.11 1164.42L402.28 1164.75L402.47 1165.02L402.67 1165.24L402.89 1165.39L403.14 1165.49L403.43 1165.53L403.75 1165.51L404.1 1165.45L404.5 1165.36L404.93 1165.25L405.39 1165.12L405.87 1164.99L406.38 1164.87L406.89 1164.78L407.4 1164.72L407.89 1164.7L408.37 1164.73L408.81 1164.82L409.21 1164.96L409.56 1165.16L409.84 1165.41L410.07 1165.72L410.22 1166.08L410.31 1166.48L410.33 1166.92L410.29 1167.37L410.19 1167.85L410.04 1168.33L409.86 1168.81L409.64 1169.29L409.41 1169.74L409.18 1170.18L408.96 1170.59L408.76 1170.97L408.6 1171.32L408.49 1171.64L408.42 1171.94L408.42 1172.22L408.49 1172.48L408.62 1172.72L408.81 1172.97L409.06 1173.21L409.37 1173.46L409.72 1173.72L410.1 1173.99L410.49 1174.29L410.9 1174.6Z" fill="none" stroke="#cc2a3a" stroke-width="1.1"/><path d="M412.9 1174.6L412.7 1174.97L412.42 1175.33L412.09 1175.67L411.7 1175.99L411.28 1176.28L410.84 1176.55L410.39 1176.8L409.94 1177.03L409.52 1177.25L409.12 1177.45L408.77 1177.64L408.47 1177.84L408.23 1178.04L408.04 1178.26L407.92 1178.5L407.87 1178.77L407.87 1179.07L407.92 1179.4L408.01 1179.76L408.13 1180.16L408.28 1180.59L408.44 1181.06L408.6 1181.54L408.74 1182.04L408.85 1182.54L408.93 1183.04L408.96 1183.53L408.94 1184L408.86 1184.43L408.73 1184.83L408.53 1185.17L408.27 1185.45L407.96 1185.67L407.59 1185.83L407.18 1185.92L406.74 1185.94L406.27 1185.91L405.79 1185.82L405.29 1185.69L404.8 1185.52L404.32 1185.33L403.86 1185.12L403.42 1184.92L403.01 1184.73L402.63 1184.57L402.28 1184.44L401.96 1184.36L401.67 1184.34L401.4 1184.38L401.15 1184.48L400.91 1184.65L400.68 1184.88L400.46 1185.16L400.23 1185.5L399.98 1185.87L399.73 1186.28L399.45 1186.7L399.16 1187.12L398.84 1187.53L398.5 1187.92L398.14 1188.26L397.77 1188.55L397.38 1188.78L396.99 1188.94L396.6 1189.02L396.22 1189.02L395.84 1188.93L395.49 1188.77L395.16 1188.53L394.85 1188.22L394.58 1187.84L394.33 1187.42L394.12 1186.96L393.94 1186.48L393.79 1185.98L393.65 1185.49L393.53 1185.01L393.42 1184.56L393.31 1184.15L393.2 1183.79L393.06 1183.47L392.91 1183.21L392.72 1183.01L392.5 1182.86L392.23 1182.77L391.92 1182.72L391.57 1182.71L391.18 1182.73L390.74 1182.77L390.27 1182.83L389.78 1182.88L389.27 1182.91L388.75 1182.93L388.23 1182.91L387.74 1182.86L387.26 1182.76L386.83 1182.62L386.45 1182.43L386.12 1182.18L385.86 1181.9L385.68 1181.56L385.56 1181.19L385.52 1180.79L385.56 1180.36L385.66 1179.92L385.82 1179.47L386.04 1179.01L386.29 1178.57L386.58 1178.13L386.88 1177.71L387.18 1177.32L387.47 1176.95L387.73 1176.6L387.96 1176.27L388.13 1175.96L388.26 1175.68L388.32 1175.4L388.31 1175.13L388.24 1174.87L388.1 1174.6L387.9 1174.32L387.65 1174.03L387.36 1173.72L387.04 1173.4L386.69 1173.05L386.34 1172.67L386 1172.28L385.68 1171.88L385.4 1171.46L385.17 1171.03L384.99 1170.6L384.88 1170.18L384.85 1169.77L384.89 1169.38L385.01 1169.01L385.21 1168.68L385.48 1168.39L385.82 1168.14L386.21 1167.93L386.66 1167.76L387.14 1167.64L387.64 1167.55L388.16 1167.49L388.67 1167.46L389.18 1167.44L389.66 1167.44L390.1 1167.43L390.51 1167.41L390.87 1167.36L391.19 1167.29L391.46 1167.18L391.67 1167.02L391.85 1166.81L391.98 1166.55L392.09 1166.24L392.16 1165.88L392.22 1165.47L392.28 1165.02L392.34 1164.54L392.4 1164.04L392.49 1163.53L392.6 1163.02L392.75 1162.53L392.92 1162.07L393.14 1161.66L393.39 1161.29L393.68 1160.99L394 1160.76L394.35 1160.6L394.73 1160.53L395.12 1160.53L395.53 1160.62L395.94 1160.78L396.35 1161L396.75 1161.29L397.14 1161.61L397.51 1161.97L397.86 1162.35L398.19 1162.74L398.5 1163.12L398.79 1163.47L399.07 1163.79L399.33 1164.06L399.59 1164.28L399.84 1164.43L400.1 1164.52L400.36 1164.55L400.64 1164.51L400.95 1164.41L401.27 1164.26L401.62 1164.06L402 1163.83L402.4 1163.58L402.83 1163.32L403.28 1163.07L403.74 1162.83L404.21 1162.63L404.68 1162.47L405.15 1162.36L405.6 1162.31L406.02 1162.33L406.41 1162.41L406.77 1162.57L407.07 1162.8L407.33 1163.09L407.53 1163.45L407.68 1163.85L407.77 1164.3L407.81 1164.79L407.81 1165.29L407.77 1165.8L407.7 1166.32L407.61 1166.82L407.51 1167.31L407.41 1167.76L407.33 1168.19L407.27 1168.57L407.25 1168.92L407.27 1169.23L407.34 1169.5L407.47 1169.73L407.66 1169.93L407.91 1170.11L408.21 1170.27L408.57 1170.43L408.98 1170.58L409.41 1170.73L409.88 1170.9L410.36 1171.09L410.83 1171.3L411.29 1171.53L411.72 1171.79L412.11 1172.08L412.45 1172.39L412.72 1172.73L412.92 1173.08L413.04 1173.46L413.08 1173.84L413.03 1174.22L412.9 1174.6Z" fill="none" stroke="#1a78b0" stroke-width="1.1"/>
<path d="M316.4 1325.2V1431.5Q316.4 1438 322.9 1438H418.7Q425.2 1438 425.2 1431.5V1325.2Z" fill="#ccd3e7" stroke="#a9b4d5" stroke-width="0.5"/>
<rect x="319.8" y="1324.2" width="102" height="3" fill="#fff"/>
<path d="M319.8 1326.4V1429.1Q319.8 1432.1 322.8 1432.1H418.8Q421.8 1432.1 421.8 1429.1V1326.4Z" fill="#f5f8fe"/>
<path d="M319.8 1348.6V1429.1Q319.8 1432.1 322.8 1432.1H418.8Q421.8 1432.1 421.8 1429.1V1348.6Z" fill="#fbf5f8"/>
<path d="M319.8 1348.6H421.8" stroke="#cfa9c4" stroke-width="0.9"/>
<path d="M320 1348.6V1429.1M421.6 1348.6V1429.1" stroke="#cfa9c4" stroke-width="0.5" fill="none"/>
<path d="M319.8 1326.9H421.8" stroke="#cfd2d8" stroke-width="1.1"/>
<circle cx="331.7" cy="1423.6" r="8.6" fill="#f8c9c9"/><circle cx="331.7" cy="1423.6" r="4.04" fill="#eaabab"/>
<circle cx="351.5" cy="1423.6" r="8.6" fill="#f8c9c9"/><circle cx="351.5" cy="1423.6" r="4.04" fill="#eaabab"/>
<circle cx="371.1" cy="1423.6" r="8.6" fill="#f8c9c9"/><circle cx="371.1" cy="1423.6" r="4.04" fill="#eaabab"/>
<circle cx="390.3" cy="1423.6" r="8.6" fill="#f8c9c9"/><circle cx="390.3" cy="1423.6" r="4.04" fill="#eaabab"/>
<circle cx="409.1" cy="1423.6" r="8.6" fill="#f8c9c9"/><circle cx="409.1" cy="1423.6" r="4.04" fill="#eaabab"/>
<path d="M30.7 1327.9V1434.3Q30.7 1440.8 37.2 1440.8H132.7Q139.2 1440.8 139.2 1434.3V1327.9Z" fill="#ccd3e7" stroke="#a9b4d5" stroke-width="0.5"/>
<rect x="34.1" y="1326.9" width="101.7" height="3" fill="#fff"/>
<path d="M34.1 1329.1V1431.9Q34.1 1434.9 37.1 1434.9H132.8Q135.8 1434.9 135.8 1431.9V1329.1Z" fill="#f5f8fe"/>
<path d="M34.1 1351.6V1431.9Q34.1 1434.9 37.1 1434.9H132.8Q135.8 1434.9 135.8 1431.9V1351.6Z" fill="#fffcf4"/>
<path d="M34.1 1351.6H135.8" stroke="#c9a2ba" stroke-width="0.9"/>
<path d="M34.3 1351.6V1431.9M135.6 1351.6V1431.9" stroke="#c9a2ba" stroke-width="0.5" fill="none"/>
<path d="M34.1 1329.6H135.8" stroke="#cfd2d8" stroke-width="1.1"/>
<circle cx="44.2" cy="1426.3" r="11.2" fill="#8fe4ee" opacity="0.35"/><circle cx="44.2" cy="1426.3" r="9.8" fill="#8fe4ee" opacity="0.55"/><circle cx="44.2" cy="1426.3" r="8.6" fill="#7cc4e0"/><circle cx="44.2" cy="1426.3" r="4.04" fill="#2a94c4"/>
<circle cx="63.5" cy="1426.3" r="8.6" fill="#f8c9c9"/><circle cx="63.5" cy="1426.3" r="4.04" fill="#eeadad"/>
<circle cx="82.5" cy="1426.3" r="11.2" fill="#8fe4ee" opacity="0.35"/><circle cx="82.5" cy="1426.3" r="9.8" fill="#8fe4ee" opacity="0.55"/><circle cx="82.5" cy="1426.3" r="8.6" fill="#7cc4e0"/><circle cx="82.5" cy="1426.3" r="4.04" fill="#2a94c4"/>
<circle cx="103.6" cy="1426.3" r="11.2" fill="#d2a2f2" opacity="0.35"/><circle cx="103.6" cy="1426.3" r="9.8" fill="#d2a2f2" opacity="0.55"/><circle cx="103.6" cy="1426.3" r="8.6" fill="#ccabd0"/><circle cx="103.6" cy="1426.3" r="4.04" fill="#a87db0"/>
<circle cx="122.9" cy="1426.3" r="8.6" fill="#f8c9c9"/><circle cx="122.9" cy="1426.3" r="4.04" fill="#eeadad"/>
<path d="M145.8 1166.8H297" stroke="#000" stroke-width="1.7" fill="none"/><path d="M307.5 1166.8L292.5 1160.8L296 1166.8L292.5 1172.8Z"/>
<path d="M368.5 1223.4V1309" stroke="#000" stroke-width="1.7" fill="none"/><path d="M368.5 1319.6L362.5 1304.6L368.5 1308.1L374.5 1304.6Z"/>
<path d="M310.2 1386.1H164" stroke="#000" stroke-width="1.7" fill="none"/><path d="M153.6 1386.1L168.6 1380.1L165.1 1386.1L168.6 1392.1Z"/>
<text x="155" y="1153.8" font-size="21.4">Cotransfection</text>
<text x="377" y="1250.5" font-size="21.4">Induction</text><text x="377" y="1270.8" font-size="21.4">with FSK</text><text x="377" y="1291.2" font-size="21.4">or TNF</text>
<text x="186.7" y="1378.3" font-size="21.4">Add PP-CTZ</text><text x="192.8" y="1407.5" font-size="21.4">or/and DTZ</text>
<path d="M148.5 1208.06L149.31 1208.73L150.11 1209.25L150.92 1209.61L151.72 1209.79L152.53 1209.76L153.34 1209.55L154.14 1209.15L154.95 1208.59L155.75 1207.9L156.56 1207.1L157.36 1206.24L158.17 1205.35L158.98 1204.49L159.78 1203.7L160.59 1203L161.39 1202.44L162.2 1202.05L163.01 1201.83L163.81 1201.82L164.62 1201.99L165.42 1202.35L166.23 1202.88L167.04 1203.55L167.84 1204.33L168.65 1205.18L169.45 1206.06L170.26 1206.93L171.06 1207.75L171.87 1208.46L172.68 1209.05L173.48 1209.49L174.29 1209.74L175.09 1209.8L175.9 1209.66L176.71 1209.34L177.51 1208.84L178.32 1208.2L179.12 1207.44L179.93 1206.6L180.74 1205.72L181.54 1204.85L182.35 1204.02L183.15 1203.28L183.96 1202.66L184.76 1202.19L185.57 1201.9L186.38 1201.8L187.18 1201.89L187.99 1202.18L188.79 1202.64L189.6 1203.26L190.41 1203.99L191.21 1204.82L192.02 1205.7L192.82 1206.57L193.63 1207.42L194.44 1208.18L195.24 1208.83L196.05 1209.33L196.85 1209.65L197.66 1209.8L198.46 1209.74L199.27 1209.5L200.08 1209.07L200.88 1208.48L201.69 1207.77L202.49 1206.96L203.3 1206.09L204.11 1205.21L204.91 1204.35L205.72 1203.57L206.52 1202.9L207.33 1202.36L208.14 1202L208.94 1201.82L209.75 1201.83L210.55 1202.04L211.36 1202.43L212.16 1202.98L212.97 1203.67L213.78 1204.47L214.58 1205.33L215.39 1206.21L216.19 1207.07L217 1207.87" fill="none" stroke="#1c1c1c" stroke-width="2.1" stroke-linecap="round"/><path d="M148.5 1206.76L149.31 1205.88L150.11 1205L150.92 1204.16L151.72 1203.4L152.53 1202.76L153.34 1202.26L154.14 1201.94L154.95 1201.8L155.75 1201.86L156.56 1202.11L157.36 1202.54L158.17 1203.13L158.98 1203.85L159.78 1204.67L160.59 1205.53L161.39 1206.42L162.2 1207.27L163.01 1208.05L163.81 1208.72L164.62 1209.25L165.42 1209.61L166.23 1209.78L167.04 1209.77L167.84 1209.55L168.65 1209.16L169.45 1208.6L170.26 1207.91L171.06 1207.11L171.87 1206.25L172.68 1205.37L173.48 1204.5L174.29 1203.71L175.09 1203.01L175.9 1202.45L176.71 1202.05L177.51 1201.84L178.32 1201.81L179.12 1201.99L179.93 1202.34L180.74 1202.87L181.54 1203.54L182.35 1204.32L183.15 1205.17L183.96 1206.05L184.76 1206.92L185.57 1207.73L186.38 1208.46L187.18 1209.05L187.99 1209.48L188.79 1209.73L189.6 1209.8L190.41 1209.66L191.21 1209.34L192.02 1208.85L192.82 1208.21L193.63 1207.45L194.44 1206.61L195.24 1205.73L196.05 1204.86L196.85 1204.03L197.66 1203.28L198.46 1202.66L199.27 1202.2L200.08 1201.9L200.88 1201.8L201.69 1201.89L202.49 1202.17L203.3 1202.63L204.11 1203.25L204.91 1203.98L205.72 1204.81L206.52 1205.68L207.33 1206.56L208.14 1207.4L208.94 1208.17L209.75 1208.82L210.55 1209.32L211.36 1209.65L212.16 1209.79L212.97 1209.74L213.78 1209.5L214.58 1209.08L215.39 1208.49L216.19 1207.78L217 1206.97" fill="none" stroke="#333333" stroke-width="2.1" stroke-linecap="round"/><path d="M217 1207.87L217.8 1208.57L218.61 1209.14L219.41 1209.54L220.21 1209.76L221.02 1209.79L221.82 1209.62L222.63 1209.28L223.43 1208.76L224.23 1208.1L225.04 1207.33L225.84 1206.48L226.64 1205.6L227.45 1204.73L228.25 1203.91L229.06 1203.19L229.86 1202.59L230.66 1202.14L231.47 1201.88L232.27 1201.8L233.07 1201.92L233.88 1202.22L234.68 1202.7L235.49 1203.33L236.29 1204.08L237.09 1204.91L237.9 1205.78L238.7 1206.66L239.5 1207.49L240.31 1208.24L241.11 1208.88L241.92 1209.36L242.72 1209.67L243.52 1209.8L244.33 1209.73L245.13 1209.47L245.93 1209.03L246.74 1208.44L247.54 1207.72L248.35 1206.9L249.15 1206.03L249.95 1205.16L250.76 1204.31L251.56 1203.53L252.36 1202.87L253.17 1202.34L253.97 1201.99L254.78 1201.81L255.58 1201.84L256.38 1202.05L257.19 1202.45L257.99 1203L258.79 1203.7L259.6 1204.49L260.4 1205.35L261.21 1206.23L262.01 1207.09L262.81 1207.89L263.62 1208.58L264.42 1209.14L265.22 1209.54L266.03 1209.76L266.83 1209.79L267.64 1209.62L268.44 1209.27L269.24 1208.75L270.05 1208.09L270.85 1207.31L271.65 1206.47L272.46 1205.59L273.26 1204.72L274.07 1203.9L274.87 1203.18L275.67 1202.58L276.48 1202.14L277.28 1201.88L278.08 1201.8L278.89 1201.92L279.69 1202.23L280.5 1202.71L281.3 1203.34L282.1 1204.09L282.91 1204.92L283.71 1205.8L284.51 1206.67L285.32 1207.5L286.12 1208.25L286.93 1208.89L287.73 1209.37L288.53 1209.68L289.34 1209.8L290.14 1209.73L290.94 1209.46L291.75 1209.02L292.55 1208.43L293.36 1207.7L294.16 1206.89L294.96 1206.02L295.77 1205.14L296.57 1204.29L297.37 1203.52L298.18 1202.86L298.98 1202.34L299.79 1201.98L300.59 1201.81L301.39 1201.84L302.2 1202.05L303 1202.45" fill="none" stroke="#5a1fc0" stroke-width="2.1" stroke-linecap="round"/><path d="M217 1206.97L217.8 1206.1L218.61 1205.22L219.41 1204.37L220.21 1203.59L221.02 1202.91L221.82 1202.38L222.63 1202.01L223.43 1201.82L224.23 1201.83L225.04 1202.03L225.84 1202.41L226.64 1202.95L227.45 1203.64L228.25 1204.43L229.06 1205.28L229.86 1206.16L230.66 1207.02L231.47 1207.83L232.27 1208.53L233.07 1209.11L233.88 1209.52L234.68 1209.75L235.49 1209.79L236.29 1209.64L237.09 1209.3L237.9 1208.79L238.7 1208.14L239.5 1207.38L240.31 1206.53L241.11 1205.66L241.92 1204.78L242.72 1203.96L243.52 1203.23L244.33 1202.62L245.13 1202.17L245.93 1201.89L246.74 1201.8L247.54 1201.9L248.35 1202.2L249.15 1202.67L249.95 1203.29L250.76 1204.03L251.56 1204.85L252.36 1205.73L253.17 1206.6L253.97 1207.44L254.78 1208.2L255.58 1208.84L256.38 1209.34L257.19 1209.66L257.99 1209.8L258.79 1209.74L259.6 1209.49L260.4 1209.06L261.21 1208.48L262.01 1207.76L262.81 1206.95L263.62 1206.09L264.42 1205.21L265.22 1204.36L266.03 1203.58L266.83 1202.9L267.64 1202.37L268.44 1202L269.24 1201.82L270.05 1201.83L270.85 1202.03L271.65 1202.42L272.46 1202.96L273.26 1203.65L274.07 1204.44L274.87 1205.3L275.67 1206.18L276.48 1207.04L277.28 1207.84L278.08 1208.54L278.89 1209.11L279.69 1209.52L280.5 1209.75L281.3 1209.79L282.1 1209.64L282.91 1209.3L283.71 1208.78L284.51 1208.13L285.32 1207.36L286.12 1206.52L286.93 1205.64L287.73 1204.77L288.53 1203.95L289.34 1203.22L290.14 1202.61L290.94 1202.16L291.75 1201.89L292.55 1201.8L293.36 1201.91L294.16 1202.2L294.96 1202.68L295.77 1203.3L296.57 1204.04L297.37 1204.87L298.18 1205.74L298.98 1206.62L299.79 1207.45L300.59 1208.21L301.39 1208.85L302.2 1209.34L303 1209.66" fill="none" stroke="#2f1f80" stroke-width="2.1" stroke-linecap="round"/><rect x="155.9" y="1175.3" width="57.6" height="24" rx="11.5" fill="#6d6bd0" stroke="#2d2a70" stroke-width="0.9"/><text x="184.7" y="1193.5" font-size="16.6" fill="#fff" text-anchor="middle">CRE</text><path d="M218.8 1201.3V1184.8H240" fill="none" stroke="#3a2a86" stroke-width="1.8"/><path d="M249.5 1184.8L235 1179L238.5 1184.8L235 1190.6Z" fill="#3a2a86"/><text x="255.5" y="1189.1" font-size="16.2">RLuc</text>
<path d="M148.5 1249.36L149.31 1250.03L150.11 1250.55L150.92 1250.91L151.72 1251.09L152.53 1251.06L153.34 1250.85L154.14 1250.45L154.95 1249.89L155.75 1249.2L156.56 1248.4L157.36 1247.54L158.17 1246.65L158.98 1245.79L159.78 1245L160.59 1244.3L161.39 1243.74L162.2 1243.35L163.01 1243.13L163.81 1243.12L164.62 1243.29L165.42 1243.65L166.23 1244.18L167.04 1244.85L167.84 1245.63L168.65 1246.48L169.45 1247.36L170.26 1248.23L171.06 1249.05L171.87 1249.76L172.68 1250.35L173.48 1250.79L174.29 1251.04L175.09 1251.1L175.9 1250.96L176.71 1250.64L177.51 1250.14L178.32 1249.5L179.12 1248.74L179.93 1247.9L180.74 1247.02L181.54 1246.15L182.35 1245.32L183.15 1244.58L183.96 1243.96L184.76 1243.49L185.57 1243.2L186.38 1243.1L187.18 1243.19L187.99 1243.48L188.79 1243.94L189.6 1244.56L190.41 1245.29L191.21 1246.12L192.02 1247L192.82 1247.87L193.63 1248.72L194.44 1249.48L195.24 1250.13L196.05 1250.63L196.85 1250.95L197.66 1251.1L198.46 1251.04L199.27 1250.8L200.08 1250.37L200.88 1249.78L201.69 1249.07L202.49 1248.26L203.3 1247.39L204.11 1246.51L204.91 1245.65L205.72 1244.87L206.52 1244.2L207.33 1243.66L208.14 1243.3L208.94 1243.12L209.75 1243.13L210.55 1243.34L211.36 1243.73L212.16 1244.28L212.97 1244.97L213.78 1245.77L214.58 1246.63L215.39 1247.51L216.19 1248.37L217 1249.17" fill="none" stroke="#1c1c1c" stroke-width="2.1" stroke-linecap="round"/><path d="M148.5 1248.06L149.31 1247.18L150.11 1246.3L150.92 1245.46L151.72 1244.7L152.53 1244.06L153.34 1243.56L154.14 1243.24L154.95 1243.1L155.75 1243.16L156.56 1243.41L157.36 1243.84L158.17 1244.43L158.98 1245.15L159.78 1245.97L160.59 1246.83L161.39 1247.72L162.2 1248.57L163.01 1249.35L163.81 1250.02L164.62 1250.55L165.42 1250.91L166.23 1251.08L167.04 1251.07L167.84 1250.85L168.65 1250.46L169.45 1249.9L170.26 1249.21L171.06 1248.41L171.87 1247.55L172.68 1246.67L173.48 1245.8L174.29 1245.01L175.09 1244.31L175.9 1243.75L176.71 1243.35L177.51 1243.14L178.32 1243.11L179.12 1243.29L179.93 1243.64L180.74 1244.17L181.54 1244.84L182.35 1245.62L183.15 1246.47L183.96 1247.35L184.76 1248.22L185.57 1249.03L186.38 1249.76L187.18 1250.35L187.99 1250.78L188.79 1251.03L189.6 1251.1L190.41 1250.96L191.21 1250.64L192.02 1250.15L192.82 1249.51L193.63 1248.75L194.44 1247.91L195.24 1247.03L196.05 1246.16L196.85 1245.33L197.66 1244.58L198.46 1243.96L199.27 1243.5L200.08 1243.2L200.88 1243.1L201.69 1243.19L202.49 1243.47L203.3 1243.93L204.11 1244.55L204.91 1245.28L205.72 1246.11L206.52 1246.98L207.33 1247.86L208.14 1248.7L208.94 1249.47L209.75 1250.12L210.55 1250.62L211.36 1250.95L212.16 1251.09L212.97 1251.04L213.78 1250.8L214.58 1250.38L215.39 1249.79L216.19 1249.08L217 1248.27" fill="none" stroke="#333333" stroke-width="2.1" stroke-linecap="round"/><path d="M217 1249.17L217.8 1249.87L218.61 1250.44L219.41 1250.84L220.21 1251.06L221.02 1251.09L221.82 1250.92L222.63 1250.58L223.43 1250.06L224.23 1249.4L225.04 1248.63L225.84 1247.78L226.64 1246.9L227.45 1246.03L228.25 1245.21L229.06 1244.49L229.86 1243.89L230.66 1243.44L231.47 1243.18L232.27 1243.1L233.07 1243.22L233.88 1243.52L234.68 1244L235.49 1244.63L236.29 1245.38L237.09 1246.21L237.9 1247.08L238.7 1247.96L239.5 1248.79L240.31 1249.54L241.11 1250.18L241.92 1250.66L242.72 1250.97L243.52 1251.1L244.33 1251.03L245.13 1250.77L245.93 1250.33L246.74 1249.74L247.54 1249.02L248.35 1248.2L249.15 1247.33L249.95 1246.46L250.76 1245.61L251.56 1244.83L252.36 1244.17L253.17 1243.64L253.97 1243.29L254.78 1243.11L255.58 1243.14L256.38 1243.35L257.19 1243.75L257.99 1244.3L258.79 1245L259.6 1245.79L260.4 1246.65L261.21 1247.53L262.01 1248.39L262.81 1249.19L263.62 1249.88L264.42 1250.44L265.22 1250.84L266.03 1251.06L266.83 1251.09L267.64 1250.92L268.44 1250.57L269.24 1250.05L270.05 1249.39L270.85 1248.61L271.65 1247.77L272.46 1246.89L273.26 1246.02L274.07 1245.2L274.87 1244.48L275.67 1243.88L276.48 1243.44L277.28 1243.18L278.08 1243.1L278.89 1243.22L279.69 1243.53L280.5 1244.01L281.3 1244.64L282.1 1245.39L282.91 1246.22L283.71 1247.1L284.51 1247.97L285.32 1248.8L286.12 1249.55L286.93 1250.19L287.73 1250.67L288.53 1250.98L289.34 1251.1L290.14 1251.03L290.94 1250.76L291.75 1250.32L292.55 1249.73L293.36 1249L294.16 1248.19L294.96 1247.32L295.77 1246.44L296.57 1245.59L297.37 1244.82L298.18 1244.16L298.98 1243.64L299.79 1243.28L300.59 1243.11L301.39 1243.14L302.2 1243.35L303 1243.75" fill="none" stroke="#cc1122" stroke-width="2.1" stroke-linecap="round"/><path d="M217 1248.27L217.8 1247.4L218.61 1246.52L219.41 1245.67L220.21 1244.89L221.02 1244.21L221.82 1243.68L222.63 1243.31L223.43 1243.12L224.23 1243.13L225.04 1243.33L225.84 1243.71L226.64 1244.25L227.45 1244.94L228.25 1245.73L229.06 1246.58L229.86 1247.46L230.66 1248.32L231.47 1249.13L232.27 1249.83L233.07 1250.41L233.88 1250.82L234.68 1251.05L235.49 1251.09L236.29 1250.94L237.09 1250.6L237.9 1250.09L238.7 1249.44L239.5 1248.68L240.31 1247.83L241.11 1246.96L241.92 1246.08L242.72 1245.26L243.52 1244.53L244.33 1243.92L245.13 1243.47L245.93 1243.19L246.74 1243.1L247.54 1243.2L248.35 1243.5L249.15 1243.97L249.95 1244.59L250.76 1245.33L251.56 1246.15L252.36 1247.03L253.17 1247.9L253.97 1248.74L254.78 1249.5L255.58 1250.14L256.38 1250.64L257.19 1250.96L257.99 1251.1L258.79 1251.04L259.6 1250.79L260.4 1250.36L261.21 1249.78L262.01 1249.06L262.81 1248.25L263.62 1247.39L264.42 1246.51L265.22 1245.66L266.03 1244.88L266.83 1244.2L267.64 1243.67L268.44 1243.3L269.24 1243.12L270.05 1243.13L270.85 1243.33L271.65 1243.72L272.46 1244.26L273.26 1244.95L274.07 1245.74L274.87 1246.6L275.67 1247.48L276.48 1248.34L277.28 1249.14L278.08 1249.84L278.89 1250.41L279.69 1250.82L280.5 1251.05L281.3 1251.09L282.1 1250.94L282.91 1250.6L283.71 1250.08L284.51 1249.43L285.32 1248.66L286.12 1247.82L286.93 1246.94L287.73 1246.07L288.53 1245.25L289.34 1244.52L290.14 1243.91L290.94 1243.46L291.75 1243.19L292.55 1243.1L293.36 1243.21L294.16 1243.5L294.96 1243.98L295.77 1244.6L296.57 1245.34L297.37 1246.17L298.18 1247.04L298.98 1247.92L299.79 1248.75L300.59 1249.51L301.39 1250.15L302.2 1250.64L303 1250.96" fill="none" stroke="#10659c" stroke-width="2.1" stroke-linecap="round"/><rect x="155.3" y="1217" width="57.4" height="24" rx="11.5" fill="#f0d0d0" stroke="#6e4545" stroke-width="0.9"/><text x="184" y="1235.2" font-size="16.6" fill="#111" text-anchor="middle">NF-κB</text><path d="M217.8 1242.6V1226.5H240" fill="none" stroke="#3a2a86" stroke-width="1.8"/><path d="M249.5 1226.5L235 1220.7L238.5 1226.5L235 1232.3Z" fill="#3a2a86"/><text x="255.5" y="1230.8" font-size="16.2">LuxSit-i</text>
<path d="M148.5 1296.36L149.31 1297.03L150.11 1297.55L150.92 1297.91L151.72 1298.09L152.53 1298.06L153.34 1297.85L154.14 1297.45L154.95 1296.89L155.75 1296.2L156.56 1295.4L157.36 1294.54L158.17 1293.65L158.98 1292.79L159.78 1292L160.59 1291.3L161.39 1290.74L162.2 1290.35L163.01 1290.13L163.81 1290.12L164.62 1290.29L165.42 1290.65L166.23 1291.18L167.04 1291.85L167.84 1292.63L168.65 1293.48L169.45 1294.36L170.26 1295.23L171.06 1296.05L171.87 1296.76L172.68 1297.35L173.48 1297.79L174.29 1298.04L175.09 1298.1L175.9 1297.96L176.71 1297.64L177.51 1297.14L178.32 1296.5L179.12 1295.74L179.93 1294.9L180.74 1294.02L181.54 1293.15L182.35 1292.32L183.15 1291.58L183.96 1290.96L184.76 1290.49L185.57 1290.2L186.38 1290.1L187.18 1290.19L187.99 1290.48L188.79 1290.94L189.6 1291.56L190.41 1292.29L191.21 1293.12L192.02 1294L192.82 1294.87L193.63 1295.72L194.44 1296.48L195.24 1297.13L196.05 1297.63L196.85 1297.95L197.66 1298.1L198.46 1298.04L199.27 1297.8L200.08 1297.37L200.88 1296.78L201.69 1296.07L202.49 1295.26L203.3 1294.39L204.11 1293.51L204.91 1292.65L205.72 1291.87L206.52 1291.2L207.33 1290.66L208.14 1290.3L208.94 1290.12L209.75 1290.13L210.55 1290.34L211.36 1290.73L212.16 1291.28L212.97 1291.97L213.78 1292.77L214.58 1293.63L215.39 1294.51L216.19 1295.37L217 1296.17" fill="none" stroke="#1c1c1c" stroke-width="2.1" stroke-linecap="round"/><path d="M148.5 1295.06L149.31 1294.18L150.11 1293.3L150.92 1292.46L151.72 1291.7L152.53 1291.06L153.34 1290.56L154.14 1290.24L154.95 1290.1L155.75 1290.16L156.56 1290.41L157.36 1290.84L158.17 1291.43L158.98 1292.15L159.78 1292.97L160.59 1293.83L161.39 1294.72L162.2 1295.57L163.01 1296.35L163.81 1297.02L164.62 1297.55L165.42 1297.91L166.23 1298.08L167.04 1298.07L167.84 1297.85L168.65 1297.46L169.45 1296.9L170.26 1296.21L171.06 1295.41L171.87 1294.55L172.68 1293.67L173.48 1292.8L174.29 1292.01L175.09 1291.31L175.9 1290.75L176.71 1290.35L177.51 1290.14L178.32 1290.11L179.12 1290.29L179.93 1290.64L180.74 1291.17L181.54 1291.84L182.35 1292.62L183.15 1293.47L183.96 1294.35L184.76 1295.22L185.57 1296.03L186.38 1296.76L187.18 1297.35L187.99 1297.78L188.79 1298.03L189.6 1298.1L190.41 1297.96L191.21 1297.64L192.02 1297.15L192.82 1296.51L193.63 1295.75L194.44 1294.91L195.24 1294.03L196.05 1293.16L196.85 1292.33L197.66 1291.58L198.46 1290.96L199.27 1290.5L200.08 1290.2L200.88 1290.1L201.69 1290.19L202.49 1290.47L203.3 1290.93L204.11 1291.55L204.91 1292.28L205.72 1293.11L206.52 1293.98L207.33 1294.86L208.14 1295.7L208.94 1296.47L209.75 1297.12L210.55 1297.62L211.36 1297.95L212.16 1298.09L212.97 1298.04L213.78 1297.8L214.58 1297.38L215.39 1296.79L216.19 1296.08L217 1295.27" fill="none" stroke="#333333" stroke-width="2.1" stroke-linecap="round"/><path d="M217 1296.17L217.8 1296.87L218.61 1297.44L219.41 1297.84L220.21 1298.06L221.02 1298.09L221.82 1297.92L222.63 1297.58L223.43 1297.06L224.23 1296.4L225.04 1295.63L225.84 1294.78L226.64 1293.9L227.45 1293.03L228.25 1292.21L229.06 1291.49L229.86 1290.89L230.66 1290.44L231.47 1290.18L232.27 1290.1L233.07 1290.22L233.88 1290.52L234.68 1291L235.49 1291.63L236.29 1292.38L237.09 1293.21L237.9 1294.08L238.7 1294.96L239.5 1295.79L240.31 1296.54L241.11 1297.18L241.92 1297.66L242.72 1297.97L243.52 1298.1L244.33 1298.03L245.13 1297.77L245.93 1297.33L246.74 1296.74L247.54 1296.02L248.35 1295.2L249.15 1294.33L249.95 1293.46L250.76 1292.61L251.56 1291.83L252.36 1291.17L253.17 1290.64L253.97 1290.29L254.78 1290.11L255.58 1290.14L256.38 1290.35L257.19 1290.75L257.99 1291.3L258.79 1292L259.6 1292.79L260.4 1293.65L261.21 1294.53L262.01 1295.39L262.81 1296.19L263.62 1296.88L264.42 1297.44L265.22 1297.84L266.03 1298.06L266.83 1298.09L267.64 1297.92L268.44 1297.57L269.24 1297.05L270.05 1296.39L270.85 1295.61L271.65 1294.77L272.46 1293.89L273.26 1293.02L274.07 1292.2L274.87 1291.48L275.67 1290.88L276.48 1290.44L277.28 1290.18L278.08 1290.1L278.89 1290.22L279.69 1290.53L280.5 1291.01L281.3 1291.64L282.1 1292.39L282.91 1293.22L283.71 1294.1L284.51 1294.97L285.32 1295.8L286.12 1296.55L286.93 1297.19L287.73 1297.67L288.53 1297.98L289.34 1298.1L290.14 1298.03L290.94 1297.76L291.75 1297.32L292.55 1296.73L293.36 1296L294.16 1295.19L294.96 1294.32L295.77 1293.44L296.57 1292.59L297.37 1291.82L298.18 1291.16L298.98 1290.64L299.79 1290.28L300.59 1290.11L301.39 1290.14L302.2 1290.35L303 1290.75" fill="none" stroke="#0e4c60" stroke-width="2.1" stroke-linecap="round"/><path d="M217 1295.27L217.8 1294.4L218.61 1293.52L219.41 1292.67L220.21 1291.89L221.02 1291.21L221.82 1290.68L222.63 1290.31L223.43 1290.12L224.23 1290.13L225.04 1290.33L225.84 1290.71L226.64 1291.25L227.45 1291.94L228.25 1292.73L229.06 1293.58L229.86 1294.46L230.66 1295.32L231.47 1296.13L232.27 1296.83L233.07 1297.41L233.88 1297.82L234.68 1298.05L235.49 1298.09L236.29 1297.94L237.09 1297.6L237.9 1297.09L238.7 1296.44L239.5 1295.68L240.31 1294.83L241.11 1293.96L241.92 1293.08L242.72 1292.26L243.52 1291.53L244.33 1290.92L245.13 1290.47L245.93 1290.19L246.74 1290.1L247.54 1290.2L248.35 1290.5L249.15 1290.97L249.95 1291.59L250.76 1292.33L251.56 1293.15L252.36 1294.03L253.17 1294.9L253.97 1295.74L254.78 1296.5L255.58 1297.14L256.38 1297.64L257.19 1297.96L257.99 1298.1L258.79 1298.04L259.6 1297.79L260.4 1297.36L261.21 1296.78L262.01 1296.06L262.81 1295.25L263.62 1294.39L264.42 1293.51L265.22 1292.66L266.03 1291.88L266.83 1291.2L267.64 1290.67L268.44 1290.3L269.24 1290.12L270.05 1290.13L270.85 1290.33L271.65 1290.72L272.46 1291.26L273.26 1291.95L274.07 1292.74L274.87 1293.6L275.67 1294.48L276.48 1295.34L277.28 1296.14L278.08 1296.84L278.89 1297.41L279.69 1297.82L280.5 1298.05L281.3 1298.09L282.1 1297.94L282.91 1297.6L283.71 1297.08L284.51 1296.43L285.32 1295.66L286.12 1294.82L286.93 1293.94L287.73 1293.07L288.53 1292.25L289.34 1291.52L290.14 1290.91L290.94 1290.46L291.75 1290.19L292.55 1290.1L293.36 1290.21L294.16 1290.5L294.96 1290.98L295.77 1291.6L296.57 1292.34L297.37 1293.17L298.18 1294.04L298.98 1294.92L299.79 1295.75L300.59 1296.51L301.39 1297.15L302.2 1297.64L303 1297.96" fill="none" stroke="#0e4c60" stroke-width="2.1" stroke-linecap="round"/><rect x="155.3" y="1263.6" width="57.4" height="24" rx="11.5" fill="#3f74c8" stroke="#1c3b8a" stroke-width="0.9"/><text x="184" y="1281.8" font-size="16.6" fill="#fff" text-anchor="middle">CMV</text><path d="M217.8 1289.6V1273.1H240" fill="none" stroke="#3a2a86" stroke-width="1.8"/><path d="M249.5 1273.1L235 1267.3L238.5 1273.1L235 1278.9Z" fill="#3a2a86"/><text x="255.5" y="1277.4" font-size="16.2">CyOFP</text>
<g transform="translate(178.3 1360.3) rotate(48.1)" fill="#35607c"><rect x="-1.8" y="-6" width="3.6" height="6.4" rx="1.6"/><path d="M-4.2 -7.5Q-4.2 -4.6 -1.8 -4.6H1.8Q4.2 -4.6 4.2 -7.5V-27H-4.2Z"/><path d="M-3 -16.4L3 -23.1V-26.5H-3Z" fill="#fff"/><rect x="-8.2" y="-31" width="16.4" height="5" rx="1.4"/><path d="M-5.6 -30V-33Q-5.6 -35 -4.9 -37V-43.8A4.9 4.9 0 0 1 4.9 -43.8V-37Q5.6 -35 5.6 -33V-30Z"/></g>
<path d="M178.1 1365C180.6 1368.6 181.6 1370.2 181.6 1371.5A3.5 3.5 0 0 1 174.6 1371.5C174.6 1370.2 175.6 1368.6 178.1 1365Z" fill="#3498d8"/>
</g>
<g font-family="Liberation Sans, sans-serif" fill="#000">
<path d="M603.1 1342.3V1127.84H637.7V1342.3" fill="none" stroke="#2f6db3" stroke-width="1.9"/>
<path d="M620.4 1134.54V1119.46M611.4 1134.54h18M611.4 1119.46h18" fill="none" stroke="#2f6db3" stroke-width="0.9"/>
<circle cx="613.1" cy="1134.54" r="3.6"/>
<circle cx="620.4" cy="1118.9" r="3.6"/>
<circle cx="627.7" cy="1127.28" r="3.6"/>
<path d="M659.2 1342.3V1333.92H693.8V1342.3" fill="none" stroke="#4a35a0" stroke-width="1.9"/>
<path d="M676.5 1334.26V1333.36M667.5 1334.26h18M667.5 1333.36h18" fill="none" stroke="#4a35a0" stroke-width="0.9"/>
<rect x="658.1" y="1329.96" width="6.8" height="6.8"/>
<rect x="673.1" y="1329.41" width="6.8" height="6.8"/>
<rect x="687.9" y="1329.96" width="6.8" height="6.8"/>
<path d="M715 1342.3V1332.02H749.6V1342.3" fill="none" stroke="#c23bb2" stroke-width="1.9"/>
<path d="M732.3 1332.47V1331.35M723.3 1332.47h18M723.3 1331.35h18" fill="none" stroke="#c23bb2" stroke-width="0.9"/>
<path d="M717.3 1328.35L721 1334.85L713.6 1334.85Z"/>
<path d="M732.3 1327.79L736 1334.29L728.6 1334.29Z"/>
<path d="M747.3 1328.57L751 1335.07L743.6 1335.07Z"/>
<path d="M776.4 1342.3V1328.9H811V1342.3" fill="none" stroke="#2f6db3" stroke-width="1.9"/>
<path d="M793.7 1329.23V1328.34M784.7 1329.23h18M784.7 1328.34h18" fill="none" stroke="#2f6db3" stroke-width="0.9"/>
<circle cx="779.2" cy="1328" r="3.6"/>
<circle cx="793.7" cy="1327.78" r="3.6"/>
<circle cx="808.7" cy="1328.11" r="3.6"/>
<path d="M832.1 1342.3V1184.24H866.7V1342.3" fill="none" stroke="#5f32a6" stroke-width="1.9"/>
<path d="M849.4 1185.92V1180.89M840.4 1185.92h18M840.4 1180.89h18" fill="none" stroke="#5f32a6" stroke-width="0.9"/>
<rect x="831.5" y="1181.96" width="6.8" height="6.8"/>
<rect x="846.5" y="1177.27" width="6.8" height="6.8"/>
<rect x="861" y="1180.29" width="6.8" height="6.8"/>
<path d="M888.6 1342.3V1332.25H923.2V1342.3" fill="none" stroke="#c23bb2" stroke-width="1.9"/>
<path d="M905.9 1332.69V1331.58M896.9 1332.69h18M896.9 1331.58h18" fill="none" stroke="#c23bb2" stroke-width="0.9"/>
<path d="M890.9 1328.91L894.6 1335.41L887.2 1335.41Z"/>
<path d="M905.9 1327.79L909.6 1334.29L902.2 1334.29Z"/>
<path d="M920.9 1328.35L924.6 1334.85L917.2 1334.85Z"/>
<text x="569.5" y="1349.2" font-size="25" text-anchor="end">0</text>
<text x="569.5" y="1293.35" font-size="25" text-anchor="end">5</text>
<text x="569.5" y="1237.5" font-size="25" text-anchor="end">10</text>
<text x="569.5" y="1181.65" font-size="25" text-anchor="end">15</text>
<text x="569.5" y="1125.8" font-size="25" text-anchor="end">20</text>
<text x="569.5" y="1069.95" font-size="25" text-anchor="end">25</text>
<path d="M583.9 1343.15V1062.2M575.5 1342.3H943M575.5 1342.3h8.4M579.1 1314.38h4.8M575.5 1286.45h8.4M579.1 1258.52h4.8M575.5 1230.6h8.4M579.1 1202.67h4.8M575.5 1174.75h8.4M579.1 1146.83h4.8M575.5 1118.9h8.4M579.1 1090.97h4.8M575.5 1063.05h8.4M620.4 1342.3v8.6M676.5 1342.3v8.6M732.3 1342.3v8.6M793.7 1342.3v8.6M849.4 1342.3v8.6M905.9 1342.3v8.6" stroke="#000" stroke-width="1.7" fill="none"/>
<text x="550.5" y="1378" font-size="25" text-anchor="middle">FSK</text>
<text x="620.4" y="1378.5" font-size="26" text-anchor="middle">+</text>
<text x="677.96" y="1378.5" font-size="26" text-anchor="middle">−</text>
<text x="735.52" y="1378.5" font-size="26" text-anchor="middle">−</text>
<text x="793.08" y="1378.5" font-size="26" text-anchor="middle">+</text>
<text x="850.64" y="1378.5" font-size="26" text-anchor="middle">−</text>
<text x="908.2" y="1378.5" font-size="26" text-anchor="middle">−</text>
<text x="550.5" y="1412" font-size="25" text-anchor="middle">TNF</text>
<text x="620.4" y="1412.1" font-size="26" text-anchor="middle">−</text>
<text x="677.96" y="1412.1" font-size="26" text-anchor="middle">+</text>
<text x="735.52" y="1412.1" font-size="26" text-anchor="middle">−</text>
<text x="793.08" y="1412.1" font-size="26" text-anchor="middle">−</text>
<text x="850.64" y="1412.1" font-size="26" text-anchor="middle">+</text>
<text x="908.2" y="1412.1" font-size="26" text-anchor="middle">−</text>
<text x="550.5" y="1445.3" font-size="25" text-anchor="middle">PP-CTZ</text>
<text x="620.4" y="1446.1" font-size="26" text-anchor="middle">+</text>
<text x="677.96" y="1446.1" font-size="26" text-anchor="middle">+</text>
<text x="735.52" y="1446.1" font-size="26" text-anchor="middle">+</text>
<text x="793.08" y="1446.1" font-size="26" text-anchor="middle">−</text>
<text x="850.64" y="1446.1" font-size="26" text-anchor="middle">−</text>
<text x="908.2" y="1446.1" font-size="26" text-anchor="middle">−</text>
<text x="550.5" y="1479.1" font-size="25" text-anchor="middle">DTZ</text>
<text x="620.4" y="1480.9" font-size="26" text-anchor="middle">−</text>
<text x="677.96" y="1480.9" font-size="26" text-anchor="middle">−</text>
<text x="735.52" y="1480.9" font-size="26" text-anchor="middle">−</text>
<text x="793.08" y="1480.9" font-size="26" text-anchor="middle">+</text>
<text x="850.64" y="1480.9" font-size="26" text-anchor="middle">+</text>
<text x="908.2" y="1480.9" font-size="26" text-anchor="middle">+</text>
<text transform="translate(528 1202.5) rotate(-90)" font-size="25" text-anchor="middle">Fold of activation</text>
<path d="M1068.4 1342.6V1102.1H1102.6V1342.6" fill="none" stroke="#2f6db3" stroke-width="1.9"/>
<path d="M1085.5 1105.45V1097.08M1076.5 1105.45h18M1076.5 1097.08h18" fill="none" stroke="#2f6db3" stroke-width="0.9"/>
<circle cx="1078" cy="1103.59" r="3.6"/>
<circle cx="1085.5" cy="1096.15" r="3.6"/>
<circle cx="1093" cy="1103.03" r="3.6"/>
<path d="M1124.7 1342.6V1322.14H1158.9V1342.6" fill="none" stroke="#4a35a0" stroke-width="1.9"/>
<path d="M1141.8 1322.51V1321.58M1132.8 1322.51h18M1132.8 1321.58h18" fill="none" stroke="#4a35a0" stroke-width="0.9"/>
<rect x="1123.4" y="1318.37" width="6.8" height="6.8"/>
<rect x="1138.4" y="1317.81" width="6.8" height="6.8"/>
<rect x="1153.4" y="1318.74" width="6.8" height="6.8"/>
<path d="M1180.6 1342.6V1325.49H1214.8V1342.6" fill="none" stroke="#c23bb2" stroke-width="1.9"/>
<path d="M1197.7 1325.86V1324.74M1188.7 1325.86h18M1188.7 1324.74h18" fill="none" stroke="#c23bb2" stroke-width="0.9"/>
<path d="M1182.7 1321.4L1186.4 1327.9L1179 1327.9Z"/>
<path d="M1197.7 1320.66L1201.4 1327.16L1194 1327.16Z"/>
<path d="M1212.7 1321.4L1216.4 1327.9L1209 1327.9Z"/>
<path d="M1242.4 1342.6V1311.35H1276.6V1342.6" fill="none" stroke="#2f6db3" stroke-width="1.9"/>
<path d="M1259.5 1311.72V1310.79M1250.5 1311.72h18M1250.5 1310.79h18" fill="none" stroke="#2f6db3" stroke-width="0.9"/>
<circle cx="1244.5" cy="1310.42" r="3.6"/>
<circle cx="1259.5" cy="1310.05" r="3.6"/>
<circle cx="1274.5" cy="1310.61" r="3.6"/>
<path d="M1298.3 1342.6V1092.43H1332.5V1342.6" fill="none" stroke="#5f32a6" stroke-width="1.9"/>
<path d="M1315.4 1097.08V1085.92M1306.4 1097.08h18M1306.4 1085.92h18" fill="none" stroke="#5f32a6" stroke-width="0.9"/>
<rect x="1305" y="1082.52" width="6.8" height="6.8"/>
<rect x="1305" y="1094.61" width="6.8" height="6.8"/>
<rect x="1319.5" y="1088.1" width="6.8" height="6.8"/>
<path d="M1354.9 1342.6V1325.49H1389.1V1342.6" fill="none" stroke="#c23bb2" stroke-width="1.9"/>
<path d="M1372 1325.86V1324.74M1363 1325.86h18M1363 1324.74h18" fill="none" stroke="#c23bb2" stroke-width="0.9"/>
<path d="M1357 1321.4L1360.7 1327.9L1353.3 1327.9Z"/>
<path d="M1372 1320.66L1375.7 1327.16L1368.3 1327.16Z"/>
<path d="M1387 1321.4L1390.7 1327.9L1383.3 1327.9Z"/>
<text x="1034.7" y="1351.3" font-size="25" text-anchor="end">0</text>
<text x="1034.7" y="1295.5" font-size="25" text-anchor="end">3</text>
<text x="1034.7" y="1239.7" font-size="25" text-anchor="end">6</text>
<text x="1034.7" y="1183.9" font-size="25" text-anchor="end">9</text>
<text x="1034.7" y="1128.1" font-size="25" text-anchor="end">12</text>
<text x="1034.7" y="1072.3" font-size="25" text-anchor="end">15</text>
<path d="M1049.1 1343.45V1062.75M1040.7 1342.6H1409M1040.7 1342.6h8.4M1044.3 1314.7h4.8M1040.7 1286.8h8.4M1044.3 1258.9h4.8M1040.7 1231h8.4M1044.3 1203.1h4.8M1040.7 1175.2h8.4M1044.3 1147.3h4.8M1040.7 1119.4h8.4M1044.3 1091.5h4.8M1040.7 1063.6h8.4M1085.5 1342.6v8.6M1141.8 1342.6v8.6M1197.7 1342.6v8.6M1259.5 1342.6v8.6M1315.4 1342.6v8.6M1372 1342.6v8.6" stroke="#000" stroke-width="1.7" fill="none"/>
<text x="1020.3" y="1378" font-size="25" text-anchor="middle">FSK</text>
<text x="1086.8" y="1378.5" font-size="26" text-anchor="middle">+</text>
<text x="1144.48" y="1378.5" font-size="26" text-anchor="middle">−</text>
<text x="1202.16" y="1378.5" font-size="26" text-anchor="middle">−</text>
<text x="1259.84" y="1378.5" font-size="26" text-anchor="middle">+</text>
<text x="1317.52" y="1378.5" font-size="26" text-anchor="middle">−</text>
<text x="1375.2" y="1378.5" font-size="26" text-anchor="middle">−</text>
<text x="1020.3" y="1412" font-size="25" text-anchor="middle">TNF</text>
<text x="1086.8" y="1412.1" font-size="26" text-anchor="middle">−</text>
<text x="1144.48" y="1412.1" font-size="26" text-anchor="middle">+</text>
<text x="1202.16" y="1412.1" font-size="26" text-anchor="middle">−</text>
<text x="1259.84" y="1412.1" font-size="26" text-anchor="middle">−</text>
<text x="1317.52" y="1412.1" font-size="26" text-anchor="middle">+</text>
<text x="1375.2" y="1412.1" font-size="26" text-anchor="middle">−</text>
<text x="1020.3" y="1445.3" font-size="25" text-anchor="middle">PP-CTZ</text>
<text x="1086.8" y="1446.1" font-size="26" text-anchor="middle">+</text>
<text x="1144.48" y="1446.1" font-size="26" text-anchor="middle">+</text>
<text x="1202.16" y="1446.1" font-size="26" text-anchor="middle">+</text>
<text x="1259.84" y="1446.1" font-size="26" text-anchor="middle">+</text>
<text x="1317.52" y="1446.1" font-size="26" text-anchor="middle">+</text>
<text x="1375.2" y="1446.1" font-size="26" text-anchor="middle">+</text>
<text x="1020.3" y="1479.1" font-size="25" text-anchor="middle">DTZ</text>
<text x="1086.8" y="1480.9" font-size="26" text-anchor="middle">+</text>
<text x="1144.48" y="1480.9" font-size="26" text-anchor="middle">+</text>
<text x="1202.16" y="1480.9" font-size="26" text-anchor="middle">+</text>
<text x="1259.84" y="1480.9" font-size="26" text-anchor="middle">+</text>
<text x="1317.52" y="1480.9" font-size="26" text-anchor="middle">+</text>
<text x="1375.2" y="1480.9" font-size="26" text-anchor="middle">+</text>
<text transform="translate(998 1211.5) rotate(-90)" font-size="25" text-anchor="middle">Fold of activation</text>
<path d="M1229.5 1060.1V1347.7" stroke="#000" stroke-width="1.6" stroke-dasharray="17.4 7.9" stroke-dashoffset="5.1" fill="none"/>
<text x="1145.2" y="1064" font-size="25" text-anchor="middle">395 ± 35 nm</text>
<text x="1317.8" y="1064" font-size="25" text-anchor="middle">528 ± 20 nm</text>
</g>
</svg>
</body></html>
